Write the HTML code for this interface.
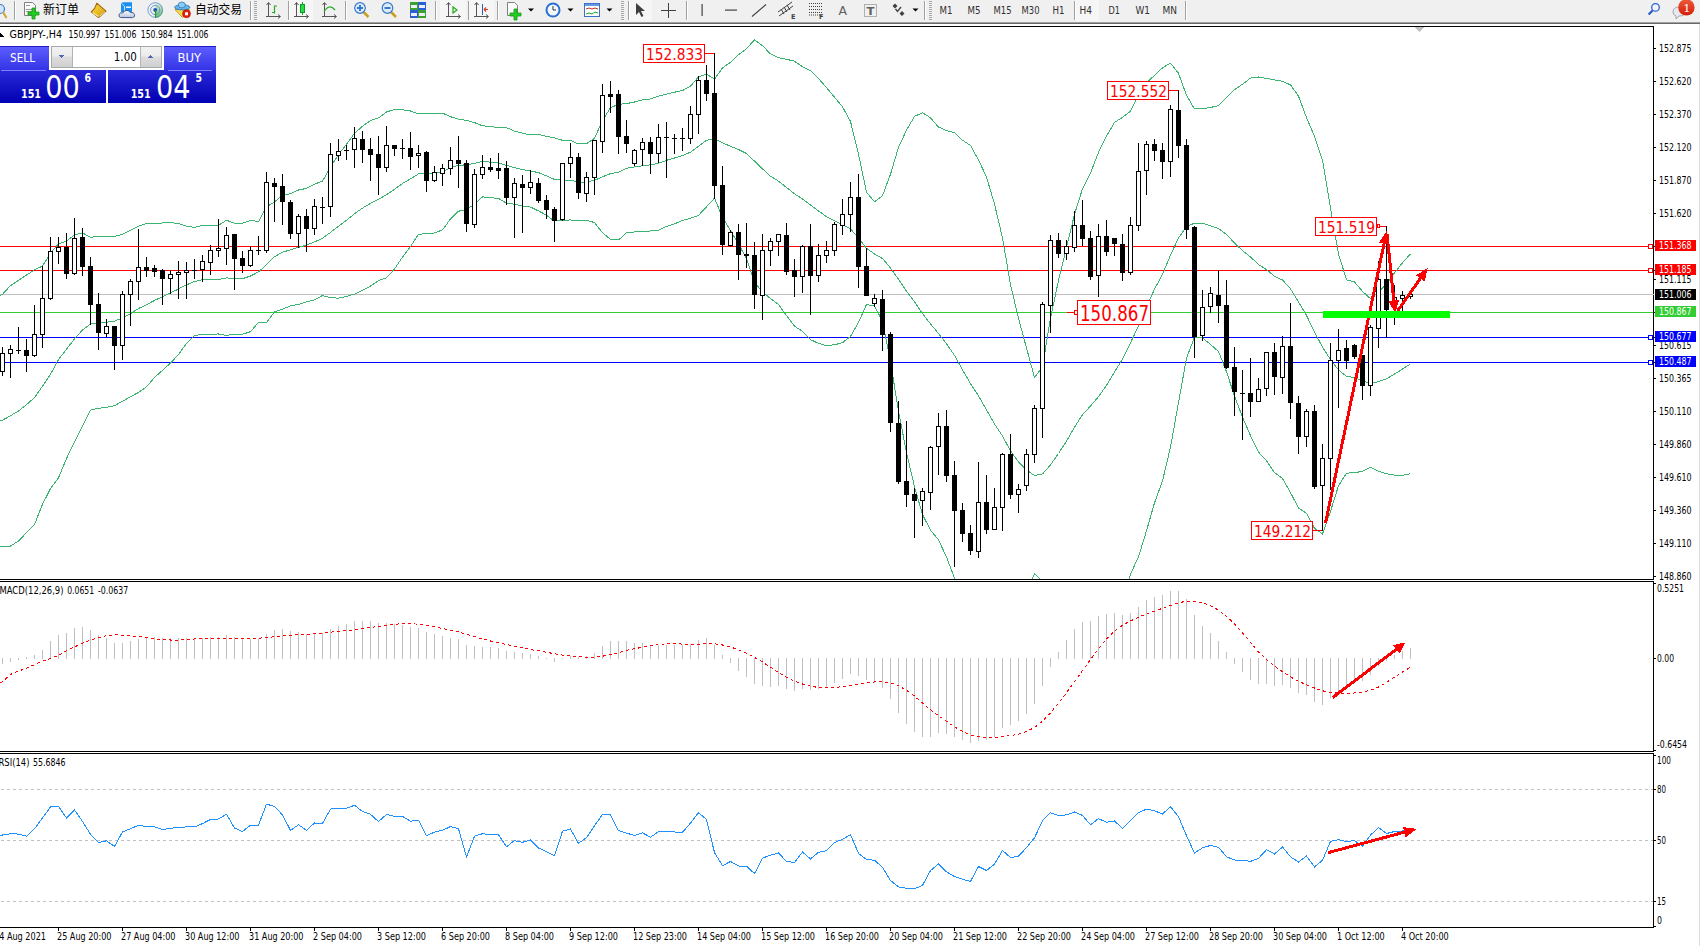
<!DOCTYPE html>
<html><head><meta charset="utf-8"><title>GBPJPY-,H4</title>
<style>html,body{margin:0;padding:0;background:#fff;width:1700px;height:946px;overflow:hidden;position:relative}
text{white-space:pre}</style></head>
<body>
<svg width="1700" height="946" viewBox="0 0 1700 946" shape-rendering="crispEdges" style="position:absolute;left:0;top:0"><rect x="0" y="24" width="1700" height="922" fill="#ffffff" />
<rect x="1699" y="24" width="1" height="922" fill="#dcdcdc" />
<rect x="0" y="246" width="1653" height="1" fill="#ff0000" />
<rect x="0" y="270" width="1653" height="1" fill="#ff0000" />
<rect x="0" y="294" width="1653" height="1" fill="#c0c0c0" />
<rect x="0" y="312" width="1653" height="1" fill="#32cd32" />
<rect x="0" y="337" width="1653" height="1" fill="#0000ff" />
<rect x="0" y="362" width="1653" height="1" fill="#0000ff" />
<rect x="1648" y="244" width="5" height="5" fill="#ff0000" />
<rect x="1649" y="245" width="3" height="3" fill="#ffffff" />
<rect x="1648" y="268" width="5" height="5" fill="#ff0000" />
<rect x="1649" y="269" width="3" height="3" fill="#ffffff" />
<rect x="1648" y="335" width="5" height="5" fill="#0000ff" />
<rect x="1649" y="336" width="3" height="3" fill="#ffffff" />
<rect x="1648" y="360" width="5" height="5" fill="#0000ff" />
<rect x="1649" y="361" width="3" height="3" fill="#ffffff" />
<defs><clipPath id="cMain"><rect x="0" y="27" width="1653" height="552"/></clipPath><clipPath id="cMacd"><rect x="0" y="582" width="1653" height="169"/></clipPath><clipPath id="cRsi"><rect x="0" y="754" width="1653" height="173"/></clipPath></defs>
<g clip-path="url(#cMain)">
<polyline points="-5.5,297.8 2.5,294.3 10.5,285.6 18.5,280.3 26.5,275.1 34.5,269.9 42.5,266.0 50.5,253.3 58.5,243.7 66.5,241.2 74.5,235.0 82.5,232.9 90.5,237.3 98.5,236.5 106.5,236.5 114.5,236.5 122.5,234.2 130.5,230.3 138.5,226.3 146.5,223.4 154.5,223.3 162.5,223.0 170.5,222.7 178.5,223.4 186.5,226.2 194.5,227.3 202.5,225.4 210.5,225.2 218.5,225.4 226.5,220.2 234.5,223.3 242.5,223.2 250.5,220.4 258.5,221.6 266.5,206.9 274.5,201.9 282.5,195.1 290.5,193.8 298.5,190.0 306.5,188.4 314.5,184.1 322.5,181.2 330.5,166.9 338.5,154.6 346.5,144.2 354.5,133.3 362.5,126.2 370.5,120.6 378.5,117.9 386.5,111.9 394.5,109.5 402.5,109.8 410.5,111.0 418.5,113.8 426.5,113.8 434.5,113.3 442.5,113.1 450.5,116.7 458.5,119.2 466.5,120.3 474.5,122.6 482.5,125.8 490.5,126.5 498.5,127.7 506.5,127.6 514.5,131.2 522.5,133.2 530.5,134.9 538.5,134.3 546.5,136.5 554.5,137.8 562.5,140.3 570.5,140.4 578.5,144.0 586.5,143.8 594.5,138.3 602.5,120.7 610.5,107.6 618.5,104.4 626.5,103.6 634.5,102.0 642.5,99.9 650.5,98.9 658.5,96.2 666.5,94.2 674.5,92.2 682.5,90.6 690.5,86.1 698.5,76.9 706.5,74.0 714.5,79.2 722.5,67.9 730.5,62.2 738.5,54.8 746.5,48.6 754.5,39.9 762.5,45.7 770.5,53.9 778.5,57.7 786.5,59.3 794.5,61.2 802.5,66.8 810.5,70.6 818.5,78.5 826.5,87.6 834.5,97.1 842.5,106.8 850.5,121.4 858.5,154.1 866.5,192.3 874.5,201.8 882.5,195.8 890.5,174.2 898.5,147.4 906.5,130.1 914.5,116.4 922.5,112.7 930.5,117.8 938.5,127.1 946.5,130.5 954.5,132.8 962.5,140.2 970.5,145.4 978.5,160.0 986.5,177.0 994.5,204.0 1002.5,237.9 1010.5,284.6 1018.5,318.3 1026.5,348.0 1034.5,377.4 1042.5,366.8 1050.5,318.1 1058.5,280.5 1066.5,247.4 1074.5,214.3 1082.5,188.8 1090.5,173.0 1098.5,152.4 1106.5,136.2 1114.5,122.4 1122.5,117.3 1130.5,111.3 1138.5,95.4 1146.5,83.0 1154.5,75.3 1162.5,67.9 1170.5,63.1 1178.5,73.3 1186.5,95.3 1194.5,108.9 1202.5,108.7 1210.5,107.5 1218.5,105.6 1226.5,97.5 1234.5,89.8 1242.5,84.2 1250.5,78.1 1258.5,77.0 1266.5,78.4 1274.5,79.9 1282.5,81.3 1290.5,84.9 1298.5,96.1 1306.5,117.6 1314.5,136.2 1322.5,160.2 1330.5,207.9 1338.5,253.9 1346.5,279.8 1354.5,281.9 1362.5,291.4 1370.5,298.7 1378.5,292.0 1386.5,283.8 1394.5,272.9 1402.5,262.8 1410.5,253.8" fill="none" stroke="#3cb371" stroke-width="1" />
<polyline points="-5.5,422.4 2.5,420.2 10.5,415.7 18.5,411.0 26.5,404.6 34.5,397.7 42.5,386.2 50.5,374.3 58.5,359.5 66.5,349.2 74.5,338.8 82.5,330.0 90.5,324.0 98.5,323.3 106.5,322.2 114.5,321.1 122.5,318.1 130.5,313.7 138.5,308.5 146.5,304.8 154.5,300.4 162.5,296.7 170.5,292.9 178.5,289.0 186.5,284.8 194.5,281.5 202.5,279.7 210.5,279.7 218.5,279.7 226.5,277.8 234.5,278.8 242.5,278.7 250.5,276.0 258.5,271.9 266.5,264.7 274.5,256.8 282.5,252.2 290.5,249.8 298.5,247.3 306.5,245.2 314.5,241.9 322.5,238.3 330.5,232.4 338.5,226.3 346.5,220.3 354.5,213.7 362.5,208.1 370.5,203.4 378.5,199.3 386.5,194.8 394.5,189.3 402.5,183.5 410.5,178.8 418.5,173.9 426.5,173.8 434.5,173.1 442.5,171.5 450.5,167.8 458.5,165.2 466.5,164.9 474.5,163.3 482.5,161.4 490.5,162.1 498.5,163.1 506.5,165.4 514.5,167.7 522.5,169.6 530.5,171.0 538.5,172.6 546.5,175.9 554.5,179.4 562.5,180.2 570.5,180.2 578.5,182.2 586.5,182.0 594.5,180.4 602.5,176.8 610.5,173.6 618.5,172.2 626.5,168.2 634.5,167.0 642.5,165.7 650.5,164.9 658.5,163.3 666.5,160.3 674.5,158.0 682.5,155.6 690.5,152.2 698.5,146.2 706.5,140.4 714.5,138.6 722.5,142.7 730.5,146.4 738.5,149.5 746.5,153.5 754.5,161.2 762.5,168.9 770.5,176.2 778.5,181.1 786.5,187.5 794.5,193.8 802.5,199.0 810.5,205.1 818.5,211.0 826.5,216.6 834.5,220.9 842.5,224.7 850.5,228.9 858.5,238.2 866.5,248.3 874.5,254.0 882.5,258.5 890.5,268.0 898.5,279.3 906.5,291.3 914.5,301.6 922.5,313.6 930.5,323.9 938.5,333.5 946.5,343.7 954.5,355.4 962.5,369.8 970.5,383.6 978.5,395.9 986.5,409.9 994.5,424.0 1002.5,436.0 1010.5,450.9 1018.5,462.0 1026.5,470.0 1034.5,475.5 1042.5,474.0 1050.5,464.9 1058.5,453.5 1066.5,441.1 1074.5,427.3 1082.5,414.7 1090.5,406.1 1098.5,396.6 1106.5,385.4 1114.5,372.0 1122.5,359.0 1130.5,342.7 1138.5,326.2 1146.5,306.9 1154.5,289.1 1162.5,274.4 1170.5,255.1 1178.5,237.9 1186.5,226.7 1194.5,223.1 1202.5,223.3 1210.5,225.9 1218.5,228.5 1226.5,234.6 1234.5,242.9 1242.5,250.7 1250.5,256.9 1258.5,264.5 1266.5,269.6 1274.5,276.3 1282.5,280.0 1290.5,288.8 1298.5,302.1 1306.5,315.4 1314.5,332.2 1322.5,347.1 1330.5,359.6 1338.5,369.9 1346.5,376.4 1354.5,377.4 1362.5,381.3 1370.5,383.0 1378.5,381.7 1386.5,378.8 1394.5,374.0 1402.5,369.1 1410.5,363.8" fill="none" stroke="#3cb371" stroke-width="1" />
<polyline points="-5.5,546.0 2.5,546.0 10.5,546.0 18.5,541.0 26.5,532.7 34.5,524.4 42.5,504.3 50.5,488.6 58.5,477.7 66.5,458.5 74.5,441.9 82.5,425.9 90.5,410.1 98.5,408.3 106.5,407.2 114.5,405.8 122.5,401.2 130.5,396.8 138.5,392.4 146.5,386.9 154.5,377.5 162.5,370.3 170.5,363.1 178.5,354.6 186.5,343.3 194.5,335.8 202.5,334.1 210.5,334.1 218.5,334.0 226.5,335.4 234.5,334.3 242.5,334.3 250.5,331.7 258.5,322.3 266.5,322.6 274.5,311.7 282.5,309.2 290.5,305.8 298.5,304.5 306.5,301.9 314.5,299.8 322.5,295.5 330.5,297.8 338.5,298.1 346.5,296.4 354.5,294.1 362.5,290.1 370.5,286.1 378.5,280.7 386.5,277.7 394.5,269.1 402.5,257.1 410.5,246.6 418.5,234.1 426.5,233.9 434.5,232.9 442.5,229.9 450.5,218.9 458.5,211.2 466.5,209.6 474.5,204.1 482.5,196.9 490.5,197.7 498.5,198.4 506.5,203.3 514.5,204.2 522.5,206.0 530.5,207.1 538.5,210.9 546.5,215.2 554.5,221.1 562.5,220.1 570.5,220.0 578.5,220.3 586.5,220.2 594.5,222.6 602.5,232.8 610.5,239.5 618.5,240.0 626.5,232.8 634.5,232.0 642.5,231.6 650.5,231.0 658.5,230.4 666.5,226.4 674.5,223.9 682.5,220.5 690.5,218.3 698.5,215.4 706.5,206.8 714.5,198.1 722.5,217.4 730.5,230.7 738.5,244.2 746.5,258.3 754.5,282.4 762.5,292.1 770.5,298.5 778.5,304.5 786.5,315.6 794.5,326.3 802.5,331.2 810.5,339.6 818.5,343.4 826.5,345.6 834.5,344.8 842.5,342.7 850.5,336.4 858.5,322.4 866.5,304.4 874.5,306.2 882.5,321.1 890.5,361.8 898.5,411.2 906.5,452.5 914.5,486.8 922.5,514.6 930.5,530.1 938.5,539.9 946.5,557.0 954.5,578.1 962.5,599.4 970.5,621.7 978.5,631.8 986.5,642.7 994.5,644.1 1002.5,634.1 1010.5,617.2 1018.5,605.8 1026.5,591.9 1034.5,573.5 1042.5,581.2 1050.5,611.6 1058.5,626.4 1066.5,634.7 1074.5,640.2 1082.5,640.5 1090.5,639.2 1098.5,640.9 1106.5,634.6 1114.5,621.7 1122.5,600.7 1130.5,574.1 1138.5,556.9 1146.5,530.8 1154.5,502.9 1162.5,480.9 1170.5,447.2 1178.5,402.6 1186.5,358.1 1194.5,337.3 1202.5,337.9 1210.5,344.4 1218.5,351.5 1226.5,371.7 1234.5,396.1 1242.5,417.1 1250.5,435.7 1258.5,452.1 1266.5,460.8 1274.5,472.6 1282.5,478.6 1290.5,492.7 1298.5,508.1 1306.5,513.3 1314.5,528.3 1322.5,533.9 1330.5,511.4 1338.5,485.8 1346.5,473.1 1354.5,472.8 1362.5,471.2 1370.5,467.3 1378.5,471.4 1386.5,473.7 1394.5,475.1 1402.5,475.4 1410.5,473.8" fill="none" stroke="#3cb371" stroke-width="1" />
</g>
<rect x="2" y="347" width="1" height="29" fill="#000" />
<rect x="0" y="353" width="5" height="19" fill="#000" />
<rect x="1" y="354" width="3" height="17" fill="#fff" />
<rect x="10" y="345" width="1" height="33" fill="#000" />
<rect x="8" y="349" width="5" height="5" fill="#000" />
<rect x="9" y="350" width="3" height="3" fill="#fff" />
<rect x="18" y="327" width="1" height="27" fill="#000" />
<rect x="16" y="350" width="5" height="1" fill="#000" />
<rect x="26" y="339" width="1" height="33" fill="#000" />
<rect x="24" y="350" width="5" height="6" fill="#000" />
<rect x="34" y="305" width="1" height="52" fill="#000" />
<rect x="32" y="334" width="5" height="22" fill="#000" />
<rect x="33" y="335" width="3" height="20" fill="#fff" />
<rect x="42" y="266" width="1" height="82" fill="#000" />
<rect x="40" y="298" width="5" height="37" fill="#000" />
<rect x="41" y="299" width="3" height="35" fill="#fff" />
<rect x="50" y="237" width="1" height="63" fill="#000" />
<rect x="48" y="251" width="5" height="48" fill="#000" />
<rect x="49" y="252" width="3" height="46" fill="#fff" />
<rect x="58" y="237" width="1" height="27" fill="#000" />
<rect x="56" y="247" width="5" height="5" fill="#000" />
<rect x="57" y="248" width="3" height="3" fill="#fff" />
<rect x="66" y="233" width="1" height="46" fill="#000" />
<rect x="64" y="247" width="5" height="27" fill="#000" />
<rect x="74" y="218" width="1" height="57" fill="#000" />
<rect x="72" y="238" width="5" height="36" fill="#000" />
<rect x="73" y="239" width="3" height="34" fill="#fff" />
<rect x="82" y="228" width="1" height="48" fill="#000" />
<rect x="80" y="237" width="5" height="30" fill="#000" />
<rect x="90" y="257" width="1" height="68" fill="#000" />
<rect x="88" y="266" width="5" height="39" fill="#000" />
<rect x="98" y="293" width="1" height="57" fill="#000" />
<rect x="96" y="304" width="5" height="29" fill="#000" />
<rect x="106" y="319" width="1" height="18" fill="#000" />
<rect x="104" y="326" width="5" height="8" fill="#000" />
<rect x="105" y="327" width="3" height="6" fill="#fff" />
<rect x="114" y="326" width="1" height="44" fill="#000" />
<rect x="112" y="326" width="5" height="20" fill="#000" />
<rect x="122" y="291" width="1" height="69" fill="#000" />
<rect x="120" y="294" width="5" height="52" fill="#000" />
<rect x="121" y="295" width="3" height="50" fill="#fff" />
<rect x="130" y="279" width="1" height="47" fill="#000" />
<rect x="128" y="281" width="5" height="14" fill="#000" />
<rect x="129" y="282" width="3" height="12" fill="#fff" />
<rect x="138" y="229" width="1" height="71" fill="#000" />
<rect x="136" y="267" width="5" height="15" fill="#000" />
<rect x="137" y="268" width="3" height="13" fill="#fff" />
<rect x="146" y="257" width="1" height="20" fill="#000" />
<rect x="144" y="267" width="5" height="4" fill="#000" />
<rect x="154" y="265" width="1" height="12" fill="#000" />
<rect x="152" y="268" width="5" height="4" fill="#000" />
<rect x="162" y="269" width="1" height="36" fill="#000" />
<rect x="160" y="270" width="5" height="9" fill="#000" />
<rect x="170" y="270" width="1" height="24" fill="#000" />
<rect x="168" y="274" width="5" height="5" fill="#000" />
<rect x="169" y="275" width="3" height="3" fill="#fff" />
<rect x="178" y="261" width="1" height="38" fill="#000" />
<rect x="176" y="272" width="5" height="3" fill="#000" />
<rect x="177" y="273" width="3" height="1" fill="#fff" />
<rect x="186" y="262" width="1" height="37" fill="#000" />
<rect x="184" y="270" width="5" height="3" fill="#000" />
<rect x="185" y="271" width="3" height="1" fill="#fff" />
<rect x="194" y="259" width="1" height="20" fill="#000" />
<rect x="192" y="270" width="5" height="1" fill="#000" />
<rect x="202" y="255" width="1" height="27" fill="#000" />
<rect x="200" y="261" width="5" height="9" fill="#000" />
<rect x="201" y="262" width="3" height="7" fill="#fff" />
<rect x="210" y="245" width="1" height="30" fill="#000" />
<rect x="208" y="250" width="5" height="13" fill="#000" />
<rect x="209" y="251" width="3" height="11" fill="#fff" />
<rect x="218" y="219" width="1" height="38" fill="#000" />
<rect x="216" y="248" width="5" height="3" fill="#000" />
<rect x="217" y="249" width="3" height="1" fill="#fff" />
<rect x="226" y="227" width="1" height="38" fill="#000" />
<rect x="224" y="235" width="5" height="14" fill="#000" />
<rect x="225" y="236" width="3" height="12" fill="#fff" />
<rect x="234" y="234" width="1" height="56" fill="#000" />
<rect x="232" y="234" width="5" height="25" fill="#000" />
<rect x="242" y="251" width="1" height="22" fill="#000" />
<rect x="240" y="258" width="5" height="8" fill="#000" />
<rect x="250" y="246" width="1" height="21" fill="#000" />
<rect x="248" y="250" width="5" height="16" fill="#000" />
<rect x="249" y="251" width="3" height="14" fill="#fff" />
<rect x="258" y="236" width="1" height="19" fill="#000" />
<rect x="256" y="250" width="5" height="1" fill="#000" />
<rect x="266" y="172" width="1" height="81" fill="#000" />
<rect x="264" y="182" width="5" height="69" fill="#000" />
<rect x="265" y="183" width="3" height="67" fill="#fff" />
<rect x="274" y="178" width="1" height="44" fill="#000" />
<rect x="272" y="183" width="5" height="4" fill="#000" />
<rect x="282" y="174" width="1" height="51" fill="#000" />
<rect x="280" y="186" width="5" height="16" fill="#000" />
<rect x="290" y="200" width="1" height="39" fill="#000" />
<rect x="288" y="202" width="5" height="32" fill="#000" />
<rect x="298" y="214" width="1" height="34" fill="#000" />
<rect x="296" y="216" width="5" height="18" fill="#000" />
<rect x="297" y="217" width="3" height="16" fill="#fff" />
<rect x="306" y="209" width="1" height="43" fill="#000" />
<rect x="304" y="216" width="5" height="13" fill="#000" />
<rect x="314" y="199" width="1" height="36" fill="#000" />
<rect x="312" y="206" width="5" height="23" fill="#000" />
<rect x="313" y="207" width="3" height="21" fill="#fff" />
<rect x="322" y="197" width="1" height="27" fill="#000" />
<rect x="320" y="207" width="5" height="1" fill="#000" />
<rect x="330" y="143" width="1" height="74" fill="#000" />
<rect x="328" y="154" width="5" height="53" fill="#000" />
<rect x="329" y="155" width="3" height="51" fill="#fff" />
<rect x="338" y="139" width="1" height="22" fill="#000" />
<rect x="336" y="151" width="5" height="5" fill="#000" />
<rect x="337" y="152" width="3" height="3" fill="#fff" />
<rect x="346" y="145" width="1" height="15" fill="#000" />
<rect x="344" y="150" width="5" height="1" fill="#000" />
<rect x="354" y="127" width="1" height="41" fill="#000" />
<rect x="352" y="138" width="5" height="12" fill="#000" />
<rect x="353" y="139" width="3" height="10" fill="#fff" />
<rect x="362" y="131" width="1" height="32" fill="#000" />
<rect x="360" y="139" width="5" height="11" fill="#000" />
<rect x="370" y="138" width="1" height="43" fill="#000" />
<rect x="368" y="149" width="5" height="6" fill="#000" />
<rect x="378" y="136" width="1" height="59" fill="#000" />
<rect x="376" y="154" width="5" height="14" fill="#000" />
<rect x="386" y="126" width="1" height="46" fill="#000" />
<rect x="384" y="145" width="5" height="23" fill="#000" />
<rect x="385" y="146" width="3" height="21" fill="#fff" />
<rect x="394" y="145" width="1" height="11" fill="#000" />
<rect x="392" y="145" width="5" height="4" fill="#000" />
<rect x="402" y="139" width="1" height="20" fill="#000" />
<rect x="400" y="148" width="5" height="1" fill="#000" />
<rect x="410" y="132" width="1" height="38" fill="#000" />
<rect x="408" y="148" width="5" height="9" fill="#000" />
<rect x="418" y="145" width="1" height="23" fill="#000" />
<rect x="416" y="153" width="5" height="3" fill="#000" />
<rect x="417" y="154" width="3" height="1" fill="#fff" />
<rect x="426" y="151" width="1" height="41" fill="#000" />
<rect x="424" y="152" width="5" height="29" fill="#000" />
<rect x="434" y="166" width="1" height="16" fill="#000" />
<rect x="432" y="172" width="5" height="9" fill="#000" />
<rect x="433" y="173" width="3" height="7" fill="#fff" />
<rect x="442" y="164" width="1" height="22" fill="#000" />
<rect x="440" y="168" width="5" height="6" fill="#000" />
<rect x="441" y="169" width="3" height="4" fill="#fff" />
<rect x="450" y="147" width="1" height="28" fill="#000" />
<rect x="448" y="160" width="5" height="9" fill="#000" />
<rect x="449" y="161" width="3" height="7" fill="#fff" />
<rect x="458" y="136" width="1" height="52" fill="#000" />
<rect x="456" y="160" width="5" height="4" fill="#000" />
<rect x="466" y="160" width="1" height="72" fill="#000" />
<rect x="464" y="163" width="5" height="61" fill="#000" />
<rect x="474" y="169" width="1" height="59" fill="#000" />
<rect x="472" y="174" width="5" height="51" fill="#000" />
<rect x="473" y="175" width="3" height="49" fill="#fff" />
<rect x="482" y="155" width="1" height="24" fill="#000" />
<rect x="480" y="167" width="5" height="8" fill="#000" />
<rect x="481" y="168" width="3" height="6" fill="#fff" />
<rect x="490" y="158" width="1" height="14" fill="#000" />
<rect x="488" y="167" width="5" height="3" fill="#000" />
<rect x="498" y="153" width="1" height="26" fill="#000" />
<rect x="496" y="168" width="5" height="3" fill="#000" />
<rect x="506" y="161" width="1" height="44" fill="#000" />
<rect x="504" y="168" width="5" height="30" fill="#000" />
<rect x="514" y="178" width="1" height="60" fill="#000" />
<rect x="512" y="183" width="5" height="15" fill="#000" />
<rect x="513" y="184" width="3" height="13" fill="#fff" />
<rect x="522" y="175" width="1" height="58" fill="#000" />
<rect x="520" y="184" width="5" height="4" fill="#000" />
<rect x="530" y="170" width="1" height="24" fill="#000" />
<rect x="528" y="182" width="5" height="6" fill="#000" />
<rect x="529" y="183" width="3" height="4" fill="#fff" />
<rect x="538" y="178" width="1" height="25" fill="#000" />
<rect x="536" y="183" width="5" height="18" fill="#000" />
<rect x="546" y="195" width="1" height="24" fill="#000" />
<rect x="544" y="200" width="5" height="10" fill="#000" />
<rect x="554" y="207" width="1" height="35" fill="#000" />
<rect x="552" y="209" width="5" height="12" fill="#000" />
<rect x="562" y="163" width="1" height="58" fill="#000" />
<rect x="560" y="163" width="5" height="57" fill="#000" />
<rect x="561" y="164" width="3" height="55" fill="#fff" />
<rect x="570" y="143" width="1" height="35" fill="#000" />
<rect x="568" y="157" width="5" height="7" fill="#000" />
<rect x="569" y="158" width="3" height="5" fill="#fff" />
<rect x="578" y="153" width="1" height="46" fill="#000" />
<rect x="576" y="157" width="5" height="36" fill="#000" />
<rect x="586" y="172" width="1" height="30" fill="#000" />
<rect x="584" y="177" width="5" height="17" fill="#000" />
<rect x="585" y="178" width="3" height="15" fill="#fff" />
<rect x="594" y="140" width="1" height="55" fill="#000" />
<rect x="592" y="140" width="5" height="38" fill="#000" />
<rect x="593" y="141" width="3" height="36" fill="#fff" />
<rect x="602" y="84" width="1" height="69" fill="#000" />
<rect x="600" y="95" width="5" height="47" fill="#000" />
<rect x="601" y="96" width="3" height="45" fill="#fff" />
<rect x="610" y="81" width="1" height="32" fill="#000" />
<rect x="608" y="94" width="5" height="3" fill="#000" />
<rect x="618" y="90" width="1" height="64" fill="#000" />
<rect x="616" y="94" width="5" height="43" fill="#000" />
<rect x="626" y="120" width="1" height="33" fill="#000" />
<rect x="624" y="136" width="5" height="8" fill="#000" />
<rect x="634" y="149" width="1" height="17" fill="#000" />
<rect x="632" y="150" width="5" height="14" fill="#000" />
<rect x="633" y="151" width="3" height="12" fill="#fff" />
<rect x="642" y="138" width="1" height="28" fill="#000" />
<rect x="640" y="142" width="5" height="8" fill="#000" />
<rect x="641" y="143" width="3" height="6" fill="#fff" />
<rect x="650" y="137" width="1" height="37" fill="#000" />
<rect x="648" y="142" width="5" height="12" fill="#000" />
<rect x="658" y="124" width="1" height="39" fill="#000" />
<rect x="656" y="137" width="5" height="17" fill="#000" />
<rect x="657" y="138" width="3" height="15" fill="#fff" />
<rect x="666" y="122" width="1" height="56" fill="#000" />
<rect x="664" y="137" width="5" height="1" fill="#000" />
<rect x="674" y="134" width="1" height="20" fill="#000" />
<rect x="672" y="138" width="5" height="1" fill="#000" />
<rect x="682" y="128" width="1" height="23" fill="#000" />
<rect x="680" y="138" width="5" height="1" fill="#000" />
<rect x="690" y="106" width="1" height="38" fill="#000" />
<rect x="688" y="114" width="5" height="25" fill="#000" />
<rect x="689" y="115" width="3" height="23" fill="#fff" />
<rect x="698" y="76" width="1" height="58" fill="#000" />
<rect x="696" y="80" width="5" height="35" fill="#000" />
<rect x="697" y="81" width="3" height="33" fill="#fff" />
<rect x="706" y="65" width="1" height="36" fill="#000" />
<rect x="704" y="80" width="5" height="14" fill="#000" />
<rect x="714" y="53" width="1" height="146" fill="#000" />
<rect x="712" y="93" width="5" height="93" fill="#000" />
<rect x="722" y="166" width="1" height="89" fill="#000" />
<rect x="720" y="185" width="5" height="60" fill="#000" />
<rect x="730" y="230" width="1" height="17" fill="#000" />
<rect x="728" y="232" width="5" height="14" fill="#000" />
<rect x="729" y="233" width="3" height="12" fill="#fff" />
<rect x="738" y="224" width="1" height="56" fill="#000" />
<rect x="736" y="232" width="5" height="23" fill="#000" />
<rect x="746" y="223" width="1" height="45" fill="#000" />
<rect x="744" y="254" width="5" height="2" fill="#000" />
<rect x="754" y="242" width="1" height="67" fill="#000" />
<rect x="752" y="255" width="5" height="40" fill="#000" />
<rect x="762" y="234" width="1" height="86" fill="#000" />
<rect x="760" y="250" width="5" height="46" fill="#000" />
<rect x="761" y="251" width="3" height="44" fill="#fff" />
<rect x="770" y="238" width="1" height="28" fill="#000" />
<rect x="768" y="241" width="5" height="10" fill="#000" />
<rect x="769" y="242" width="3" height="8" fill="#fff" />
<rect x="778" y="234" width="1" height="22" fill="#000" />
<rect x="776" y="234" width="5" height="8" fill="#000" />
<rect x="777" y="235" width="3" height="6" fill="#fff" />
<rect x="786" y="223" width="1" height="52" fill="#000" />
<rect x="784" y="235" width="5" height="37" fill="#000" />
<rect x="794" y="259" width="1" height="38" fill="#000" />
<rect x="792" y="270" width="5" height="7" fill="#000" />
<rect x="802" y="245" width="1" height="48" fill="#000" />
<rect x="800" y="246" width="5" height="31" fill="#000" />
<rect x="801" y="247" width="3" height="29" fill="#fff" />
<rect x="810" y="224" width="1" height="91" fill="#000" />
<rect x="808" y="246" width="5" height="30" fill="#000" />
<rect x="818" y="244" width="1" height="38" fill="#000" />
<rect x="816" y="255" width="5" height="21" fill="#000" />
<rect x="817" y="256" width="3" height="19" fill="#fff" />
<rect x="826" y="241" width="1" height="22" fill="#000" />
<rect x="824" y="250" width="5" height="6" fill="#000" />
<rect x="825" y="251" width="3" height="4" fill="#fff" />
<rect x="834" y="222" width="1" height="34" fill="#000" />
<rect x="832" y="224" width="5" height="27" fill="#000" />
<rect x="833" y="225" width="3" height="25" fill="#fff" />
<rect x="842" y="199" width="1" height="36" fill="#000" />
<rect x="840" y="214" width="5" height="12" fill="#000" />
<rect x="841" y="215" width="3" height="10" fill="#fff" />
<rect x="850" y="182" width="1" height="50" fill="#000" />
<rect x="848" y="197" width="5" height="18" fill="#000" />
<rect x="849" y="198" width="3" height="16" fill="#fff" />
<rect x="858" y="174" width="1" height="114" fill="#000" />
<rect x="856" y="197" width="5" height="70" fill="#000" />
<rect x="866" y="248" width="1" height="48" fill="#000" />
<rect x="864" y="266" width="5" height="30" fill="#000" />
<rect x="874" y="294" width="1" height="13" fill="#000" />
<rect x="872" y="298" width="5" height="6" fill="#000" />
<rect x="873" y="299" width="3" height="4" fill="#fff" />
<rect x="882" y="290" width="1" height="61" fill="#000" />
<rect x="880" y="299" width="5" height="36" fill="#000" />
<rect x="890" y="332" width="1" height="100" fill="#000" />
<rect x="888" y="334" width="5" height="89" fill="#000" />
<rect x="898" y="401" width="1" height="83" fill="#000" />
<rect x="896" y="423" width="5" height="59" fill="#000" />
<rect x="906" y="421" width="1" height="86" fill="#000" />
<rect x="904" y="481" width="5" height="14" fill="#000" />
<rect x="914" y="488" width="1" height="50" fill="#000" />
<rect x="912" y="494" width="5" height="7" fill="#000" />
<rect x="922" y="488" width="1" height="38" fill="#000" />
<rect x="920" y="491" width="5" height="10" fill="#000" />
<rect x="921" y="492" width="3" height="8" fill="#fff" />
<rect x="930" y="446" width="1" height="64" fill="#000" />
<rect x="928" y="447" width="5" height="46" fill="#000" />
<rect x="929" y="448" width="3" height="44" fill="#fff" />
<rect x="938" y="413" width="1" height="62" fill="#000" />
<rect x="936" y="426" width="5" height="21" fill="#000" />
<rect x="937" y="427" width="3" height="19" fill="#fff" />
<rect x="946" y="410" width="1" height="72" fill="#000" />
<rect x="944" y="426" width="5" height="50" fill="#000" />
<rect x="954" y="461" width="1" height="106" fill="#000" />
<rect x="952" y="475" width="5" height="36" fill="#000" />
<rect x="962" y="503" width="1" height="39" fill="#000" />
<rect x="960" y="510" width="5" height="24" fill="#000" />
<rect x="970" y="525" width="1" height="30" fill="#000" />
<rect x="968" y="533" width="5" height="18" fill="#000" />
<rect x="978" y="462" width="1" height="96" fill="#000" />
<rect x="976" y="502" width="5" height="50" fill="#000" />
<rect x="977" y="503" width="3" height="48" fill="#fff" />
<rect x="986" y="475" width="1" height="59" fill="#000" />
<rect x="984" y="502" width="5" height="28" fill="#000" />
<rect x="994" y="488" width="1" height="42" fill="#000" />
<rect x="992" y="507" width="5" height="23" fill="#000" />
<rect x="993" y="508" width="3" height="21" fill="#fff" />
<rect x="1002" y="453" width="1" height="78" fill="#000" />
<rect x="1000" y="454" width="5" height="54" fill="#000" />
<rect x="1001" y="455" width="3" height="52" fill="#fff" />
<rect x="1010" y="434" width="1" height="65" fill="#000" />
<rect x="1008" y="454" width="5" height="41" fill="#000" />
<rect x="1018" y="484" width="1" height="29" fill="#000" />
<rect x="1016" y="489" width="5" height="6" fill="#000" />
<rect x="1017" y="490" width="3" height="4" fill="#fff" />
<rect x="1026" y="449" width="1" height="42" fill="#000" />
<rect x="1024" y="454" width="5" height="32" fill="#000" />
<rect x="1025" y="455" width="3" height="30" fill="#fff" />
<rect x="1034" y="405" width="1" height="58" fill="#000" />
<rect x="1032" y="408" width="5" height="47" fill="#000" />
<rect x="1033" y="409" width="3" height="45" fill="#fff" />
<rect x="1042" y="302" width="1" height="136" fill="#000" />
<rect x="1040" y="304" width="5" height="105" fill="#000" />
<rect x="1041" y="305" width="3" height="103" fill="#fff" />
<rect x="1050" y="235" width="1" height="98" fill="#000" />
<rect x="1048" y="240" width="5" height="66" fill="#000" />
<rect x="1049" y="241" width="3" height="64" fill="#fff" />
<rect x="1058" y="233" width="1" height="25" fill="#000" />
<rect x="1056" y="240" width="5" height="14" fill="#000" />
<rect x="1066" y="240" width="1" height="20" fill="#000" />
<rect x="1064" y="246" width="5" height="8" fill="#000" />
<rect x="1065" y="247" width="3" height="6" fill="#fff" />
<rect x="1074" y="211" width="1" height="41" fill="#000" />
<rect x="1072" y="225" width="5" height="23" fill="#000" />
<rect x="1073" y="226" width="3" height="21" fill="#fff" />
<rect x="1082" y="200" width="1" height="46" fill="#000" />
<rect x="1080" y="225" width="5" height="14" fill="#000" />
<rect x="1090" y="231" width="1" height="49" fill="#000" />
<rect x="1088" y="238" width="5" height="39" fill="#000" />
<rect x="1098" y="224" width="1" height="73" fill="#000" />
<rect x="1096" y="236" width="5" height="40" fill="#000" />
<rect x="1097" y="237" width="3" height="38" fill="#fff" />
<rect x="1106" y="220" width="1" height="36" fill="#000" />
<rect x="1104" y="236" width="5" height="16" fill="#000" />
<rect x="1114" y="238" width="1" height="18" fill="#000" />
<rect x="1112" y="238" width="5" height="6" fill="#000" />
<rect x="1122" y="234" width="1" height="47" fill="#000" />
<rect x="1120" y="244" width="5" height="29" fill="#000" />
<rect x="1130" y="217" width="1" height="58" fill="#000" />
<rect x="1128" y="225" width="5" height="48" fill="#000" />
<rect x="1129" y="226" width="3" height="46" fill="#fff" />
<rect x="1138" y="143" width="1" height="88" fill="#000" />
<rect x="1136" y="171" width="5" height="55" fill="#000" />
<rect x="1137" y="172" width="3" height="53" fill="#fff" />
<rect x="1146" y="141" width="1" height="54" fill="#000" />
<rect x="1144" y="144" width="5" height="27" fill="#000" />
<rect x="1145" y="145" width="3" height="25" fill="#fff" />
<rect x="1154" y="139" width="1" height="22" fill="#000" />
<rect x="1152" y="144" width="5" height="7" fill="#000" />
<rect x="1162" y="143" width="1" height="36" fill="#000" />
<rect x="1160" y="150" width="5" height="12" fill="#000" />
<rect x="1170" y="105" width="1" height="72" fill="#000" />
<rect x="1168" y="109" width="5" height="53" fill="#000" />
<rect x="1169" y="110" width="3" height="51" fill="#fff" />
<rect x="1178" y="90" width="1" height="68" fill="#000" />
<rect x="1176" y="110" width="5" height="36" fill="#000" />
<rect x="1186" y="139" width="1" height="100" fill="#000" />
<rect x="1184" y="145" width="5" height="85" fill="#000" />
<rect x="1194" y="226" width="1" height="132" fill="#000" />
<rect x="1192" y="227" width="5" height="110" fill="#000" />
<rect x="1202" y="290" width="1" height="51" fill="#000" />
<rect x="1200" y="307" width="5" height="29" fill="#000" />
<rect x="1201" y="308" width="3" height="27" fill="#fff" />
<rect x="1210" y="287" width="1" height="26" fill="#000" />
<rect x="1208" y="293" width="5" height="14" fill="#000" />
<rect x="1209" y="294" width="3" height="12" fill="#fff" />
<rect x="1218" y="270" width="1" height="53" fill="#000" />
<rect x="1216" y="295" width="5" height="11" fill="#000" />
<rect x="1226" y="280" width="1" height="89" fill="#000" />
<rect x="1224" y="305" width="5" height="63" fill="#000" />
<rect x="1234" y="347" width="1" height="69" fill="#000" />
<rect x="1232" y="367" width="5" height="25" fill="#000" />
<rect x="1242" y="370" width="1" height="70" fill="#000" />
<rect x="1240" y="393" width="5" height="1" fill="#000" />
<rect x="1250" y="358" width="1" height="59" fill="#000" />
<rect x="1248" y="393" width="5" height="9" fill="#000" />
<rect x="1258" y="378" width="1" height="24" fill="#000" />
<rect x="1256" y="389" width="5" height="13" fill="#000" />
<rect x="1257" y="390" width="3" height="11" fill="#fff" />
<rect x="1266" y="352" width="1" height="44" fill="#000" />
<rect x="1264" y="352" width="5" height="37" fill="#000" />
<rect x="1265" y="353" width="3" height="35" fill="#fff" />
<rect x="1274" y="343" width="1" height="52" fill="#000" />
<rect x="1272" y="352" width="5" height="25" fill="#000" />
<rect x="1282" y="336" width="1" height="58" fill="#000" />
<rect x="1280" y="346" width="5" height="32" fill="#000" />
<rect x="1281" y="347" width="3" height="30" fill="#fff" />
<rect x="1290" y="303" width="1" height="116" fill="#000" />
<rect x="1288" y="346" width="5" height="57" fill="#000" />
<rect x="1298" y="396" width="1" height="58" fill="#000" />
<rect x="1296" y="403" width="5" height="34" fill="#000" />
<rect x="1306" y="409" width="1" height="38" fill="#000" />
<rect x="1304" y="411" width="5" height="26" fill="#000" />
<rect x="1305" y="412" width="3" height="24" fill="#fff" />
<rect x="1314" y="405" width="1" height="84" fill="#000" />
<rect x="1312" y="411" width="5" height="76" fill="#000" />
<rect x="1322" y="444" width="1" height="87" fill="#000" />
<rect x="1320" y="458" width="5" height="28" fill="#000" />
<rect x="1321" y="459" width="3" height="26" fill="#fff" />
<rect x="1330" y="343" width="1" height="147" fill="#000" />
<rect x="1328" y="360" width="5" height="99" fill="#000" />
<rect x="1329" y="361" width="3" height="97" fill="#fff" />
<rect x="1338" y="329" width="1" height="79" fill="#000" />
<rect x="1336" y="350" width="5" height="11" fill="#000" />
<rect x="1337" y="351" width="3" height="9" fill="#fff" />
<rect x="1346" y="340" width="1" height="29" fill="#000" />
<rect x="1344" y="348" width="5" height="13" fill="#000" />
<rect x="1354" y="344" width="1" height="15" fill="#000" />
<rect x="1352" y="345" width="5" height="12" fill="#000" />
<rect x="1362" y="355" width="1" height="45" fill="#000" />
<rect x="1360" y="355" width="5" height="31" fill="#000" />
<rect x="1370" y="325" width="1" height="71" fill="#000" />
<rect x="1368" y="327" width="5" height="59" fill="#000" />
<rect x="1369" y="328" width="3" height="57" fill="#fff" />
<rect x="1378" y="261" width="1" height="87" fill="#000" />
<rect x="1376" y="279" width="5" height="50" fill="#000" />
<rect x="1377" y="280" width="3" height="48" fill="#fff" />
<rect x="1386" y="226" width="1" height="112" fill="#000" />
<rect x="1384" y="279" width="5" height="31" fill="#000" />
<rect x="1394" y="285" width="1" height="40" fill="#000" />
<rect x="1392" y="297" width="5" height="8" fill="#000" />
<rect x="1393" y="298" width="3" height="6" fill="#fff" />
<rect x="1402" y="291" width="1" height="20" fill="#000" />
<rect x="1400" y="295" width="5" height="4" fill="#000" />
<rect x="1401" y="296" width="3" height="2" fill="#fff" />
<rect x="1410" y="294" width="1" height="5" fill="#000" />
<rect x="1408" y="294" width="5" height="3" fill="#000" />
<rect x="1409" y="295" width="3" height="1" fill="#fff" />
<rect x="643" y="44" width="62" height="19" fill="#ff0000" />
<rect x="644" y="45" width="60" height="17" fill="#fff" />
<text x="646" y="60" font-size="16.5" fill="#ff0000" font-family="DejaVu Sans, sans-serif" textLength="57" lengthAdjust="spacingAndGlyphs" >152.833</text>
<rect x="705" y="53" width="9" height="1" fill="#ff0000" />
<rect x="1107" y="81" width="62" height="19" fill="#ff0000" />
<rect x="1108" y="82" width="60" height="17" fill="#fff" />
<text x="1110" y="97" font-size="16.5" fill="#ff0000" font-family="DejaVu Sans, sans-serif" textLength="57" lengthAdjust="spacingAndGlyphs" >152.552</text>
<rect x="1169" y="90" width="9" height="1" fill="#ff0000" />
<rect x="1251" y="521" width="62" height="19" fill="#ff0000" />
<rect x="1252" y="522" width="60" height="17" fill="#fff" />
<text x="1254" y="537" font-size="16.5" fill="#ff0000" font-family="DejaVu Sans, sans-serif" textLength="57" lengthAdjust="spacingAndGlyphs" >149.212</text>
<rect x="1313" y="530" width="9" height="1" fill="#ff0000" />
<rect x="1315" y="217" width="62" height="19" fill="#ff0000" />
<rect x="1316" y="218" width="60" height="17" fill="#fff" />
<text x="1318" y="233" font-size="16.5" fill="#ff0000" font-family="DejaVu Sans, sans-serif" textLength="57" lengthAdjust="spacingAndGlyphs" >151.519</text>
<rect x="1380" y="226" width="6" height="1" fill="#ff0000" />
<rect x="1377" y="224" width="3" height="4" fill="#ff0000" />
<rect x="1378" y="225" width="1" height="2" fill="#fff" />
<rect x="1077" y="300" width="74" height="25" fill="#ff0000" />
<rect x="1078" y="301" width="72" height="23" fill="#fff" />
<text x="1080" y="321" font-size="22" fill="#ff0000" font-family="DejaVu Sans, sans-serif" textLength="69" lengthAdjust="spacingAndGlyphs" >150.867</text>
<rect x="1067" y="312" width="7" height="1" fill="#ff0000" />
<rect x="1074" y="310" width="4" height="5" fill="#ff0000" />
<rect x="1075" y="311" width="2" height="3" fill="#fff" />
<line x1="1325.5" y1="523.0" x2="1384.6" y2="241.2" stroke="#ff0000" stroke-width="3"/>
<polygon points="1386.4,232.4 1388.5,244.1 1379.7,242.2" fill="#ff0000" stroke="#ff0000" stroke-width="1"/>
<line x1="1387.0" y1="234.0" x2="1394.1" y2="303.0" stroke="#ff0000" stroke-width="3"/>
<polygon points="1395.0,312.0 1389.4,301.5 1398.4,300.6" fill="#ff0000" stroke="#ff0000" stroke-width="1"/>
<line x1="1397.5" y1="311.0" x2="1421.8" y2="276.4" stroke="#ff0000" stroke-width="3"/>
<polygon points="1427.0,269.0 1424.4,280.6 1417.0,275.4" fill="#ff0000" stroke="#ff0000" stroke-width="1"/>
<rect x="1323" y="311" width="127" height="7" fill="#00ff00" />
<rect x="0" y="26" width="1654" height="1" fill="#000" />
<rect x="0" y="579" width="1654" height="1" fill="#000" />
<rect x="1653" y="26" width="1" height="554" fill="#000" />
<rect x="0" y="581" width="1654" height="1" fill="#000" />
<rect x="0" y="751" width="1654" height="1" fill="#000" />
<rect x="1653" y="581" width="1" height="171" fill="#000" />
<rect x="0" y="753" width="1654" height="1" fill="#000" />
<rect x="0" y="927" width="1654" height="1" fill="#000" />
<rect x="1653" y="753" width="1" height="175" fill="#000" />
<rect x="0" y="0" width="1700" height="22" fill="#f0f0f0" />
<rect x="0" y="22" width="1700" height="1" fill="#a0a0a0" />
<rect x="0" y="23" width="1700" height="1" fill="#696969" />
<polygon points="1415,27 1424,27 1419.5,32" fill="#c0c0c0"/>
<rect x="1654" y="48" width="2" height="1" fill="#000" />
<text x="1659" y="52" font-size="9.6" fill="#000" font-family="DejaVu Sans, sans-serif" textLength="32.5" lengthAdjust="spacingAndGlyphs" font-stretch="condensed">152.875</text>
<rect x="1654" y="81" width="2" height="1" fill="#000" />
<text x="1659" y="85" font-size="9.6" fill="#000" font-family="DejaVu Sans, sans-serif" textLength="32.5" lengthAdjust="spacingAndGlyphs" font-stretch="condensed">152.620</text>
<rect x="1654" y="114" width="2" height="1" fill="#000" />
<text x="1659" y="118" font-size="9.6" fill="#000" font-family="DejaVu Sans, sans-serif" textLength="32.5" lengthAdjust="spacingAndGlyphs" font-stretch="condensed">152.370</text>
<rect x="1654" y="147" width="2" height="1" fill="#000" />
<text x="1659" y="151" font-size="9.6" fill="#000" font-family="DejaVu Sans, sans-serif" textLength="32.5" lengthAdjust="spacingAndGlyphs" font-stretch="condensed">152.120</text>
<rect x="1654" y="180" width="2" height="1" fill="#000" />
<text x="1659" y="184" font-size="9.6" fill="#000" font-family="DejaVu Sans, sans-serif" textLength="32.5" lengthAdjust="spacingAndGlyphs" font-stretch="condensed">151.870</text>
<rect x="1654" y="213" width="2" height="1" fill="#000" />
<text x="1659" y="217" font-size="9.6" fill="#000" font-family="DejaVu Sans, sans-serif" textLength="32.5" lengthAdjust="spacingAndGlyphs" font-stretch="condensed">151.620</text>
<rect x="1654" y="279" width="2" height="1" fill="#000" />
<text x="1659" y="283" font-size="9.6" fill="#000" font-family="DejaVu Sans, sans-serif" textLength="32.5" lengthAdjust="spacingAndGlyphs" font-stretch="condensed">151.115</text>
<rect x="1654" y="345" width="2" height="1" fill="#000" />
<text x="1659" y="349" font-size="9.6" fill="#000" font-family="DejaVu Sans, sans-serif" textLength="32.5" lengthAdjust="spacingAndGlyphs" font-stretch="condensed">150.615</text>
<rect x="1654" y="378" width="2" height="1" fill="#000" />
<text x="1659" y="382" font-size="9.6" fill="#000" font-family="DejaVu Sans, sans-serif" textLength="32.5" lengthAdjust="spacingAndGlyphs" font-stretch="condensed">150.365</text>
<rect x="1654" y="411" width="2" height="1" fill="#000" />
<text x="1659" y="415" font-size="9.6" fill="#000" font-family="DejaVu Sans, sans-serif" textLength="32.5" lengthAdjust="spacingAndGlyphs" font-stretch="condensed">150.110</text>
<rect x="1654" y="444" width="2" height="1" fill="#000" />
<text x="1659" y="448" font-size="9.6" fill="#000" font-family="DejaVu Sans, sans-serif" textLength="32.5" lengthAdjust="spacingAndGlyphs" font-stretch="condensed">149.860</text>
<rect x="1654" y="477" width="2" height="1" fill="#000" />
<text x="1659" y="481" font-size="9.6" fill="#000" font-family="DejaVu Sans, sans-serif" textLength="32.5" lengthAdjust="spacingAndGlyphs" font-stretch="condensed">149.610</text>
<rect x="1654" y="510" width="2" height="1" fill="#000" />
<text x="1659" y="514" font-size="9.6" fill="#000" font-family="DejaVu Sans, sans-serif" textLength="32.5" lengthAdjust="spacingAndGlyphs" font-stretch="condensed">149.360</text>
<rect x="1654" y="543" width="2" height="1" fill="#000" />
<text x="1659" y="547" font-size="9.6" fill="#000" font-family="DejaVu Sans, sans-serif" textLength="32.5" lengthAdjust="spacingAndGlyphs" font-stretch="condensed">149.110</text>
<rect x="1654" y="576" width="2" height="1" fill="#000" />
<text x="1659" y="580" font-size="9.6" fill="#000" font-family="DejaVu Sans, sans-serif" textLength="32.5" lengthAdjust="spacingAndGlyphs" font-stretch="condensed">148.860</text>
<rect x="1654" y="246" width="2" height="1" fill="#000" />
<rect x="1655" y="240" width="41" height="11" fill="#ff0000" />
<text x="1659" y="249" font-size="9.6" fill="#fff" font-family="DejaVu Sans, sans-serif" textLength="32.5" lengthAdjust="spacingAndGlyphs" font-stretch="condensed">151.368</text>
<rect x="1654" y="270" width="2" height="1" fill="#000" />
<rect x="1655" y="264" width="41" height="11" fill="#ff0000" />
<text x="1659" y="273" font-size="9.6" fill="#fff" font-family="DejaVu Sans, sans-serif" textLength="32.5" lengthAdjust="spacingAndGlyphs" font-stretch="condensed">151.185</text>
<rect x="1654" y="312" width="2" height="1" fill="#000" />
<rect x="1655" y="306" width="41" height="11" fill="#32cd32" />
<text x="1659" y="315" font-size="9.6" fill="#fff" font-family="DejaVu Sans, sans-serif" textLength="32.5" lengthAdjust="spacingAndGlyphs" font-stretch="condensed">150.867</text>
<rect x="1654" y="337" width="2" height="1" fill="#000" />
<rect x="1655" y="331" width="41" height="11" fill="#0000ff" />
<text x="1659" y="340" font-size="9.6" fill="#fff" font-family="DejaVu Sans, sans-serif" textLength="32.5" lengthAdjust="spacingAndGlyphs" font-stretch="condensed">150.677</text>
<rect x="1654" y="362" width="2" height="1" fill="#000" />
<rect x="1655" y="356" width="41" height="11" fill="#0000ff" />
<text x="1659" y="365" font-size="9.6" fill="#fff" font-family="DejaVu Sans, sans-serif" textLength="32.5" lengthAdjust="spacingAndGlyphs" font-stretch="condensed">150.487</text>
<rect x="1655" y="289" width="41" height="11" fill="#000" />
<text x="1659" y="298" font-size="9.6" fill="#fff" font-family="DejaVu Sans, sans-serif" textLength="32.5" lengthAdjust="spacingAndGlyphs" font-stretch="condensed">151.006</text>
<rect x="1653" y="294" width="1" height="1" fill="#c0c0c0" />
<rect x="2" y="658" width="1" height="6" fill="#c0c0c0" />
<rect x="10" y="658" width="1" height="4" fill="#c0c0c0" />
<rect x="18" y="658" width="1" height="2" fill="#c0c0c0" />
<rect x="26" y="657" width="1" height="2" fill="#c0c0c0" />
<rect x="34" y="655" width="1" height="4" fill="#c0c0c0" />
<rect x="42" y="650" width="1" height="9" fill="#c0c0c0" />
<rect x="50" y="641" width="1" height="18" fill="#c0c0c0" />
<rect x="58" y="635" width="1" height="24" fill="#c0c0c0" />
<rect x="66" y="633" width="1" height="26" fill="#c0c0c0" />
<rect x="74" y="628" width="1" height="31" fill="#c0c0c0" />
<rect x="82" y="627" width="1" height="32" fill="#c0c0c0" />
<rect x="90" y="630" width="1" height="29" fill="#c0c0c0" />
<rect x="98" y="635" width="1" height="24" fill="#c0c0c0" />
<rect x="106" y="638" width="1" height="21" fill="#c0c0c0" />
<rect x="114" y="643" width="1" height="16" fill="#c0c0c0" />
<rect x="122" y="643" width="1" height="16" fill="#c0c0c0" />
<rect x="130" y="641" width="1" height="18" fill="#c0c0c0" />
<rect x="138" y="639" width="1" height="20" fill="#c0c0c0" />
<rect x="146" y="638" width="1" height="21" fill="#c0c0c0" />
<rect x="154" y="637" width="1" height="22" fill="#c0c0c0" />
<rect x="162" y="638" width="1" height="21" fill="#c0c0c0" />
<rect x="170" y="638" width="1" height="21" fill="#c0c0c0" />
<rect x="178" y="638" width="1" height="21" fill="#c0c0c0" />
<rect x="186" y="638" width="1" height="21" fill="#c0c0c0" />
<rect x="194" y="639" width="1" height="20" fill="#c0c0c0" />
<rect x="202" y="638" width="1" height="21" fill="#c0c0c0" />
<rect x="210" y="637" width="1" height="22" fill="#c0c0c0" />
<rect x="218" y="637" width="1" height="22" fill="#c0c0c0" />
<rect x="226" y="635" width="1" height="24" fill="#c0c0c0" />
<rect x="234" y="637" width="1" height="22" fill="#c0c0c0" />
<rect x="242" y="638" width="1" height="21" fill="#c0c0c0" />
<rect x="250" y="639" width="1" height="20" fill="#c0c0c0" />
<rect x="258" y="639" width="1" height="20" fill="#c0c0c0" />
<rect x="266" y="634" width="1" height="25" fill="#c0c0c0" />
<rect x="274" y="630" width="1" height="29" fill="#c0c0c0" />
<rect x="282" y="629" width="1" height="30" fill="#c0c0c0" />
<rect x="290" y="631" width="1" height="28" fill="#c0c0c0" />
<rect x="298" y="632" width="1" height="27" fill="#c0c0c0" />
<rect x="306" y="634" width="1" height="25" fill="#c0c0c0" />
<rect x="314" y="633" width="1" height="26" fill="#c0c0c0" />
<rect x="322" y="633" width="1" height="26" fill="#c0c0c0" />
<rect x="330" y="629" width="1" height="30" fill="#c0c0c0" />
<rect x="338" y="626" width="1" height="33" fill="#c0c0c0" />
<rect x="346" y="624" width="1" height="35" fill="#c0c0c0" />
<rect x="354" y="621" width="1" height="38" fill="#c0c0c0" />
<rect x="362" y="621" width="1" height="38" fill="#c0c0c0" />
<rect x="370" y="621" width="1" height="38" fill="#c0c0c0" />
<rect x="378" y="623" width="1" height="36" fill="#c0c0c0" />
<rect x="386" y="623" width="1" height="36" fill="#c0c0c0" />
<rect x="394" y="624" width="1" height="35" fill="#c0c0c0" />
<rect x="402" y="625" width="1" height="34" fill="#c0c0c0" />
<rect x="410" y="627" width="1" height="32" fill="#c0c0c0" />
<rect x="418" y="628" width="1" height="31" fill="#c0c0c0" />
<rect x="426" y="632" width="1" height="27" fill="#c0c0c0" />
<rect x="434" y="634" width="1" height="25" fill="#c0c0c0" />
<rect x="442" y="636" width="1" height="23" fill="#c0c0c0" />
<rect x="450" y="638" width="1" height="21" fill="#c0c0c0" />
<rect x="458" y="639" width="1" height="20" fill="#c0c0c0" />
<rect x="466" y="645" width="1" height="14" fill="#c0c0c0" />
<rect x="474" y="646" width="1" height="13" fill="#c0c0c0" />
<rect x="482" y="647" width="1" height="12" fill="#c0c0c0" />
<rect x="490" y="647" width="1" height="12" fill="#c0c0c0" />
<rect x="498" y="648" width="1" height="11" fill="#c0c0c0" />
<rect x="506" y="651" width="1" height="8" fill="#c0c0c0" />
<rect x="514" y="652" width="1" height="7" fill="#c0c0c0" />
<rect x="522" y="653" width="1" height="6" fill="#c0c0c0" />
<rect x="530" y="654" width="1" height="5" fill="#c0c0c0" />
<rect x="538" y="656" width="1" height="3" fill="#c0c0c0" />
<rect x="546" y="658" width="1" height="1" fill="#c0c0c0" />
<rect x="554" y="658" width="1" height="4" fill="#c0c0c0" />
<rect x="562" y="658" width="1" height="1" fill="#c0c0c0" />
<rect x="570" y="656" width="1" height="3" fill="#c0c0c0" />
<rect x="578" y="657" width="1" height="2" fill="#c0c0c0" />
<rect x="586" y="656" width="1" height="3" fill="#c0c0c0" />
<rect x="594" y="653" width="1" height="6" fill="#c0c0c0" />
<rect x="602" y="646" width="1" height="13" fill="#c0c0c0" />
<rect x="610" y="641" width="1" height="18" fill="#c0c0c0" />
<rect x="618" y="641" width="1" height="18" fill="#c0c0c0" />
<rect x="626" y="641" width="1" height="18" fill="#c0c0c0" />
<rect x="634" y="643" width="1" height="16" fill="#c0c0c0" />
<rect x="642" y="643" width="1" height="16" fill="#c0c0c0" />
<rect x="650" y="645" width="1" height="14" fill="#c0c0c0" />
<rect x="658" y="645" width="1" height="14" fill="#c0c0c0" />
<rect x="666" y="645" width="1" height="14" fill="#c0c0c0" />
<rect x="674" y="645" width="1" height="14" fill="#c0c0c0" />
<rect x="682" y="645" width="1" height="14" fill="#c0c0c0" />
<rect x="690" y="644" width="1" height="15" fill="#c0c0c0" />
<rect x="698" y="640" width="1" height="19" fill="#c0c0c0" />
<rect x="706" y="638" width="1" height="21" fill="#c0c0c0" />
<rect x="714" y="645" width="1" height="14" fill="#c0c0c0" />
<rect x="722" y="655" width="1" height="4" fill="#c0c0c0" />
<rect x="730" y="658" width="1" height="5" fill="#c0c0c0" />
<rect x="738" y="658" width="1" height="13" fill="#c0c0c0" />
<rect x="746" y="658" width="1" height="19" fill="#c0c0c0" />
<rect x="754" y="658" width="1" height="26" fill="#c0c0c0" />
<rect x="762" y="658" width="1" height="28" fill="#c0c0c0" />
<rect x="770" y="658" width="1" height="29" fill="#c0c0c0" />
<rect x="778" y="658" width="1" height="28" fill="#c0c0c0" />
<rect x="786" y="658" width="1" height="31" fill="#c0c0c0" />
<rect x="794" y="658" width="1" height="33" fill="#c0c0c0" />
<rect x="802" y="658" width="1" height="31" fill="#c0c0c0" />
<rect x="810" y="658" width="1" height="32" fill="#c0c0c0" />
<rect x="818" y="658" width="1" height="31" fill="#c0c0c0" />
<rect x="826" y="658" width="1" height="29" fill="#c0c0c0" />
<rect x="834" y="658" width="1" height="25" fill="#c0c0c0" />
<rect x="842" y="658" width="1" height="21" fill="#c0c0c0" />
<rect x="850" y="658" width="1" height="16" fill="#c0c0c0" />
<rect x="858" y="658" width="1" height="18" fill="#c0c0c0" />
<rect x="866" y="658" width="1" height="22" fill="#c0c0c0" />
<rect x="874" y="658" width="1" height="25" fill="#c0c0c0" />
<rect x="882" y="658" width="1" height="30" fill="#c0c0c0" />
<rect x="890" y="658" width="1" height="41" fill="#c0c0c0" />
<rect x="898" y="658" width="1" height="55" fill="#c0c0c0" />
<rect x="906" y="658" width="1" height="66" fill="#c0c0c0" />
<rect x="914" y="658" width="1" height="74" fill="#c0c0c0" />
<rect x="922" y="658" width="1" height="79" fill="#c0c0c0" />
<rect x="930" y="658" width="1" height="79" fill="#c0c0c0" />
<rect x="938" y="658" width="1" height="75" fill="#c0c0c0" />
<rect x="946" y="658" width="1" height="76" fill="#c0c0c0" />
<rect x="954" y="658" width="1" height="79" fill="#c0c0c0" />
<rect x="962" y="658" width="1" height="82" fill="#c0c0c0" />
<rect x="970" y="658" width="1" height="85" fill="#c0c0c0" />
<rect x="978" y="658" width="1" height="83" fill="#c0c0c0" />
<rect x="986" y="658" width="1" height="82" fill="#c0c0c0" />
<rect x="994" y="658" width="1" height="79" fill="#c0c0c0" />
<rect x="1002" y="658" width="1" height="70" fill="#c0c0c0" />
<rect x="1010" y="658" width="1" height="67" fill="#c0c0c0" />
<rect x="1018" y="658" width="1" height="63" fill="#c0c0c0" />
<rect x="1026" y="658" width="1" height="56" fill="#c0c0c0" />
<rect x="1034" y="658" width="1" height="46" fill="#c0c0c0" />
<rect x="1042" y="658" width="1" height="28" fill="#c0c0c0" />
<rect x="1050" y="658" width="1" height="9" fill="#c0c0c0" />
<rect x="1058" y="652" width="1" height="7" fill="#c0c0c0" />
<rect x="1066" y="640" width="1" height="19" fill="#c0c0c0" />
<rect x="1074" y="629" width="1" height="30" fill="#c0c0c0" />
<rect x="1082" y="622" width="1" height="37" fill="#c0c0c0" />
<rect x="1090" y="621" width="1" height="38" fill="#c0c0c0" />
<rect x="1098" y="616" width="1" height="43" fill="#c0c0c0" />
<rect x="1106" y="614" width="1" height="45" fill="#c0c0c0" />
<rect x="1114" y="613" width="1" height="46" fill="#c0c0c0" />
<rect x="1122" y="615" width="1" height="44" fill="#c0c0c0" />
<rect x="1130" y="613" width="1" height="46" fill="#c0c0c0" />
<rect x="1138" y="607" width="1" height="52" fill="#c0c0c0" />
<rect x="1146" y="600" width="1" height="59" fill="#c0c0c0" />
<rect x="1154" y="597" width="1" height="62" fill="#c0c0c0" />
<rect x="1162" y="595" width="1" height="64" fill="#c0c0c0" />
<rect x="1170" y="591" width="1" height="68" fill="#c0c0c0" />
<rect x="1178" y="591" width="1" height="68" fill="#c0c0c0" />
<rect x="1186" y="599" width="1" height="60" fill="#c0c0c0" />
<rect x="1194" y="615" width="1" height="44" fill="#c0c0c0" />
<rect x="1202" y="626" width="1" height="33" fill="#c0c0c0" />
<rect x="1210" y="633" width="1" height="26" fill="#c0c0c0" />
<rect x="1218" y="641" width="1" height="18" fill="#c0c0c0" />
<rect x="1226" y="652" width="1" height="7" fill="#c0c0c0" />
<rect x="1234" y="658" width="1" height="6" fill="#c0c0c0" />
<rect x="1242" y="658" width="1" height="14" fill="#c0c0c0" />
<rect x="1250" y="658" width="1" height="22" fill="#c0c0c0" />
<rect x="1258" y="658" width="1" height="26" fill="#c0c0c0" />
<rect x="1266" y="658" width="1" height="26" fill="#c0c0c0" />
<rect x="1274" y="658" width="1" height="28" fill="#c0c0c0" />
<rect x="1282" y="658" width="1" height="27" fill="#c0c0c0" />
<rect x="1290" y="658" width="1" height="30" fill="#c0c0c0" />
<rect x="1298" y="658" width="1" height="35" fill="#c0c0c0" />
<rect x="1306" y="658" width="1" height="37" fill="#c0c0c0" />
<rect x="1314" y="658" width="1" height="44" fill="#c0c0c0" />
<rect x="1322" y="658" width="1" height="47" fill="#c0c0c0" />
<rect x="1330" y="658" width="1" height="40" fill="#c0c0c0" />
<rect x="1338" y="658" width="1" height="33" fill="#c0c0c0" />
<rect x="1346" y="658" width="1" height="29" fill="#c0c0c0" />
<rect x="1354" y="658" width="1" height="24" fill="#c0c0c0" />
<rect x="1362" y="658" width="1" height="23" fill="#c0c0c0" />
<rect x="1370" y="658" width="1" height="17" fill="#c0c0c0" />
<rect x="1378" y="658" width="1" height="8" fill="#c0c0c0" />
<rect x="1386" y="658" width="1" height="3" fill="#c0c0c0" />
<rect x="1394" y="655" width="1" height="4" fill="#c0c0c0" />
<rect x="1402" y="651" width="1" height="8" fill="#c0c0c0" />
<rect x="1410" y="648" width="1" height="11" fill="#c0c0c0" />
<polyline points="-5.5,684.0 2.5,681.8 10.5,674.4 18.5,671.1 26.5,668.1 34.5,664.8 42.5,661.1 50.5,658.5 58.5,655.4 66.5,650.8 74.5,646.9 82.5,643.2 90.5,640.0 98.5,637.5 106.5,635.6 114.5,634.9 122.5,635.1 130.5,635.8 138.5,636.5 146.5,637.6 154.5,638.8 162.5,639.7 170.5,640.0 178.5,640.0 186.5,639.4 194.5,639.0 202.5,638.7 210.5,638.5 218.5,638.4 226.5,638.1 234.5,638.0 242.5,638.1 250.5,638.1 258.5,638.2 266.5,637.6 274.5,636.7 282.5,635.8 290.5,635.2 298.5,634.8 306.5,634.4 314.5,633.9 322.5,633.3 330.5,632.2 338.5,631.4 346.5,630.7 354.5,629.8 362.5,628.7 370.5,627.5 378.5,626.4 386.5,625.2 394.5,624.2 402.5,623.7 410.5,623.7 418.5,624.2 426.5,625.4 434.5,626.9 442.5,628.6 450.5,630.1 458.5,631.9 466.5,634.3 474.5,636.6 482.5,638.9 490.5,641.0 498.5,642.7 506.5,644.5 514.5,646.2 522.5,648.0 530.5,649.6 538.5,650.8 546.5,652.2 554.5,653.8 562.5,655.1 570.5,656.0 578.5,656.7 586.5,657.2 594.5,657.1 602.5,656.2 610.5,654.6 618.5,652.6 626.5,650.4 634.5,648.7 642.5,647.3 650.5,645.9 658.5,644.6 666.5,643.7 674.5,643.6 682.5,644.1 690.5,644.4 698.5,644.2 706.5,643.7 714.5,643.8 722.5,645.0 730.5,646.9 738.5,649.8 746.5,653.2 754.5,657.4 762.5,662.0 770.5,667.2 778.5,672.5 786.5,677.3 794.5,681.1 802.5,684.0 810.5,686.2 818.5,687.5 826.5,687.9 834.5,687.5 842.5,686.7 850.5,685.4 858.5,683.9 866.5,682.7 874.5,682.0 882.5,681.7 890.5,682.8 898.5,685.7 906.5,690.2 914.5,696.1 922.5,703.1 930.5,709.8 938.5,715.7 946.5,721.4 954.5,726.9 962.5,731.4 970.5,734.8 978.5,736.6 986.5,737.5 994.5,737.4 1002.5,736.5 1010.5,735.6 1018.5,734.1 1026.5,731.5 1034.5,727.5 1042.5,721.1 1050.5,712.9 1058.5,703.3 1066.5,692.7 1074.5,681.8 1082.5,670.5 1090.5,659.5 1098.5,648.8 1106.5,638.9 1114.5,630.9 1122.5,625.2 1130.5,620.9 1138.5,617.2 1146.5,613.9 1154.5,611.1 1162.5,608.3 1170.5,605.4 1178.5,602.8 1186.5,601.2 1194.5,601.3 1202.5,602.7 1210.5,605.7 1218.5,610.2 1226.5,616.3 1234.5,623.8 1242.5,632.8 1250.5,642.6 1258.5,651.9 1266.5,659.5 1274.5,666.1 1282.5,671.7 1290.5,676.8 1298.5,681.3 1306.5,684.7 1314.5,688.0 1322.5,690.8 1330.5,692.4 1338.5,693.2 1346.5,693.2 1354.5,693.0 1362.5,692.2 1370.5,690.2 1378.5,687.0 1386.5,682.4 1394.5,677.0 1402.5,672.0 1410.5,667.3" fill="none" stroke="#ff0000" stroke-width="1" stroke-dasharray="3 3"/>
<line x1="1332.6" y1="697.6" x2="1398.2" y2="647.9" stroke="#ff0000" stroke-width="3"/>
<polygon points="1404.6,643.1 1399.3,652.7 1393.9,645.5" fill="#ff0000" stroke="#ff0000" stroke-width="1"/>
<text x="-0.5" y="593.5" font-size="9.6" fill="#000" font-family="DejaVu Sans, sans-serif" textLength="64" lengthAdjust="spacingAndGlyphs" font-stretch="condensed">MACD(12,26,9)</text>
<text x="67.2" y="593.5" font-size="9.6" fill="#000" font-family="DejaVu Sans, sans-serif" textLength="27" lengthAdjust="spacingAndGlyphs" font-stretch="condensed">0.0651</text>
<text x="98" y="593.5" font-size="9.6" fill="#000" font-family="DejaVu Sans, sans-serif" textLength="30.2" lengthAdjust="spacingAndGlyphs" font-stretch="condensed">-0.0637</text>
<rect x="1654" y="583" width="2" height="1" fill="#000" />
<text x="1657" y="592" font-size="9.6" fill="#000" font-family="DejaVu Sans, sans-serif" textLength="27" lengthAdjust="spacingAndGlyphs" font-stretch="condensed">0.5251</text>
<rect x="1654" y="658" width="2" height="1" fill="#000" />
<text x="1657" y="662" font-size="9.6" fill="#000" font-family="DejaVu Sans, sans-serif" textLength="17" lengthAdjust="spacingAndGlyphs" font-stretch="condensed">0.00</text>
<rect x="1654" y="750" width="2" height="1" fill="#000" />
<text x="1657" y="748" font-size="9.6" fill="#000" font-family="DejaVu Sans, sans-serif" textLength="30" lengthAdjust="spacingAndGlyphs" font-stretch="condensed">-0.6454</text>
<line x1="0" y1="789.5" x2="1653" y2="789.5" stroke="#c0c0c0" stroke-width="1" stroke-dasharray="3 3" stroke-dashoffset="-1"/>
<line x1="0" y1="840.5" x2="1653" y2="840.5" stroke="#c0c0c0" stroke-width="1" stroke-dasharray="3 3" stroke-dashoffset="-1"/>
<line x1="0" y1="901.5" x2="1653" y2="901.5" stroke="#c0c0c0" stroke-width="1" stroke-dasharray="3 3" stroke-dashoffset="-1"/>
<polyline points="-5.5,838.8 2.5,835.0 10.5,833.7 18.5,834.1 26.5,836.2 34.5,828.8 42.5,817.8 50.5,807.0 58.5,806.3 66.5,818.0 74.5,810.1 82.5,821.4 90.5,834.3 98.5,842.5 106.5,840.8 114.5,846.4 122.5,831.9 130.5,828.7 138.5,825.3 146.5,826.5 154.5,826.7 162.5,829.6 170.5,828.2 178.5,827.6 186.5,826.9 194.5,826.9 202.5,823.6 210.5,819.5 218.5,819.0 226.5,814.3 234.5,828.0 242.5,831.5 250.5,825.2 258.5,825.2 266.5,804.1 274.5,806.5 282.5,814.9 290.5,830.4 298.5,824.8 306.5,830.3 314.5,823.0 322.5,823.4 330.5,809.1 338.5,808.3 346.5,808.1 354.5,805.3 362.5,811.5 370.5,814.3 378.5,821.6 386.5,814.5 394.5,816.3 402.5,816.3 410.5,821.3 418.5,820.1 426.5,835.8 434.5,832.1 442.5,830.3 450.5,826.6 458.5,828.6 466.5,857.1 474.5,836.2 482.5,833.7 490.5,834.7 498.5,834.9 506.5,846.7 514.5,840.6 522.5,842.3 530.5,839.9 538.5,848.0 546.5,851.6 554.5,855.8 562.5,831.1 570.5,829.0 578.5,843.3 586.5,837.6 594.5,825.8 602.5,814.6 610.5,814.8 618.5,830.6 626.5,833.1 634.5,835.5 642.5,832.9 650.5,837.2 658.5,831.7 666.5,831.7 674.5,832.0 682.5,832.2 690.5,823.1 698.5,812.7 706.5,819.5 714.5,852.6 722.5,865.7 730.5,861.5 738.5,866.0 746.5,866.2 754.5,873.6 762.5,858.1 770.5,855.2 778.5,853.0 786.5,861.4 794.5,862.5 802.5,852.1 810.5,858.9 818.5,852.3 826.5,850.7 834.5,842.5 842.5,839.4 850.5,834.5 858.5,853.4 866.5,859.6 874.5,860.2 882.5,867.4 890.5,880.5 898.5,886.9 906.5,888.2 914.5,888.8 922.5,885.4 930.5,870.6 938.5,864.0 946.5,871.8 954.5,876.5 962.5,879.3 970.5,881.4 978.5,866.5 986.5,870.5 994.5,864.1 1002.5,850.5 1010.5,857.6 1018.5,856.2 1026.5,847.6 1034.5,837.8 1042.5,820.6 1050.5,812.7 1058.5,815.7 1066.5,814.8 1074.5,812.0 1082.5,815.4 1090.5,824.8 1098.5,818.6 1106.5,822.3 1114.5,821.0 1122.5,828.4 1130.5,820.4 1138.5,812.6 1146.5,809.1 1154.5,810.8 1162.5,814.0 1170.5,806.8 1178.5,816.7 1186.5,835.7 1194.5,853.1 1202.5,847.8 1210.5,845.4 1218.5,847.3 1226.5,856.8 1234.5,860.0 1242.5,860.2 1250.5,861.4 1258.5,858.4 1266.5,849.7 1274.5,854.0 1282.5,847.0 1290.5,856.8 1298.5,862.0 1306.5,856.0 1314.5,866.9 1322.5,860.3 1330.5,841.4 1338.5,839.7 1346.5,841.5 1354.5,840.7 1362.5,846.2 1370.5,835.2 1378.5,827.4 1386.5,833.5 1394.5,831.5 1402.5,831.0 1410.5,830.9" fill="none" stroke="#1e90ff" stroke-width="1" />
<line x1="1328.0" y1="852.7" x2="1406.8" y2="831.5" stroke="#ff0000" stroke-width="3"/>
<polygon points="1415.5,829.2 1406.0,836.4 1403.7,827.7" fill="#ff0000" stroke="#ff0000" stroke-width="1"/>
<text x="-1.5" y="766" font-size="9.6" fill="#000" font-family="DejaVu Sans, sans-serif" textLength="31" lengthAdjust="spacingAndGlyphs" font-stretch="condensed">RSI(14)</text>
<text x="32.9" y="766" font-size="9.6" fill="#000" font-family="DejaVu Sans, sans-serif" textLength="32.5" lengthAdjust="spacingAndGlyphs" font-stretch="condensed">55.6846</text>
<rect x="1654" y="755" width="2" height="1" fill="#000" />
<text x="1657" y="764" font-size="9.6" fill="#000" font-family="DejaVu Sans, sans-serif" textLength="14" lengthAdjust="spacingAndGlyphs" font-stretch="condensed">100</text>
<rect x="1654" y="789" width="2" height="1" fill="#000" />
<text x="1657" y="793" font-size="9.6" fill="#000" font-family="DejaVu Sans, sans-serif" textLength="9" lengthAdjust="spacingAndGlyphs" font-stretch="condensed">80</text>
<rect x="1654" y="840" width="2" height="1" fill="#000" />
<text x="1657" y="844" font-size="9.6" fill="#000" font-family="DejaVu Sans, sans-serif" textLength="9" lengthAdjust="spacingAndGlyphs" font-stretch="condensed">50</text>
<rect x="1654" y="901" width="2" height="1" fill="#000" />
<text x="1657" y="905" font-size="9.6" fill="#000" font-family="DejaVu Sans, sans-serif" textLength="9" lengthAdjust="spacingAndGlyphs" font-stretch="condensed">15</text>
<rect x="1654" y="926" width="2" height="1" fill="#000" />
<text x="1657" y="924" font-size="9.6" fill="#000" font-family="DejaVu Sans, sans-serif" textLength="5" lengthAdjust="spacingAndGlyphs" font-stretch="condensed">0</text>
<text x="-6" y="940" font-size="9.6" fill="#000" font-family="DejaVu Sans, sans-serif" textLength="52" lengthAdjust="spacingAndGlyphs" font-stretch="condensed">24 Aug 2021</text>
<rect x="58" y="928" width="1" height="3" fill="#000" />
<text x="57" y="940" font-size="9.6" fill="#000" font-family="DejaVu Sans, sans-serif" textLength="54.5" lengthAdjust="spacingAndGlyphs" font-stretch="condensed">25 Aug 20:00</text>
<rect x="122" y="928" width="1" height="3" fill="#000" />
<text x="121" y="940" font-size="9.6" fill="#000" font-family="DejaVu Sans, sans-serif" textLength="54.5" lengthAdjust="spacingAndGlyphs" font-stretch="condensed">27 Aug 04:00</text>
<rect x="186" y="928" width="1" height="3" fill="#000" />
<text x="185" y="940" font-size="9.6" fill="#000" font-family="DejaVu Sans, sans-serif" textLength="54.5" lengthAdjust="spacingAndGlyphs" font-stretch="condensed">30 Aug 12:00</text>
<rect x="250" y="928" width="1" height="3" fill="#000" />
<text x="249" y="940" font-size="9.6" fill="#000" font-family="DejaVu Sans, sans-serif" textLength="54.5" lengthAdjust="spacingAndGlyphs" font-stretch="condensed">31 Aug 20:00</text>
<rect x="314" y="928" width="1" height="3" fill="#000" />
<text x="313" y="940" font-size="9.6" fill="#000" font-family="DejaVu Sans, sans-serif" textLength="49" lengthAdjust="spacingAndGlyphs" font-stretch="condensed">2 Sep 04:00</text>
<rect x="378" y="928" width="1" height="3" fill="#000" />
<text x="377" y="940" font-size="9.6" fill="#000" font-family="DejaVu Sans, sans-serif" textLength="49" lengthAdjust="spacingAndGlyphs" font-stretch="condensed">3 Sep 12:00</text>
<rect x="442" y="928" width="1" height="3" fill="#000" />
<text x="441" y="940" font-size="9.6" fill="#000" font-family="DejaVu Sans, sans-serif" textLength="49" lengthAdjust="spacingAndGlyphs" font-stretch="condensed">6 Sep 20:00</text>
<rect x="506" y="928" width="1" height="3" fill="#000" />
<text x="505" y="940" font-size="9.6" fill="#000" font-family="DejaVu Sans, sans-serif" textLength="49" lengthAdjust="spacingAndGlyphs" font-stretch="condensed">8 Sep 04:00</text>
<rect x="570" y="928" width="1" height="3" fill="#000" />
<text x="569" y="940" font-size="9.6" fill="#000" font-family="DejaVu Sans, sans-serif" textLength="49" lengthAdjust="spacingAndGlyphs" font-stretch="condensed">9 Sep 12:00</text>
<rect x="634" y="928" width="1" height="3" fill="#000" />
<text x="633" y="940" font-size="9.6" fill="#000" font-family="DejaVu Sans, sans-serif" textLength="54" lengthAdjust="spacingAndGlyphs" font-stretch="condensed">12 Sep 23:00</text>
<rect x="698" y="928" width="1" height="3" fill="#000" />
<text x="697" y="940" font-size="9.6" fill="#000" font-family="DejaVu Sans, sans-serif" textLength="54" lengthAdjust="spacingAndGlyphs" font-stretch="condensed">14 Sep 04:00</text>
<rect x="762" y="928" width="1" height="3" fill="#000" />
<text x="761" y="940" font-size="9.6" fill="#000" font-family="DejaVu Sans, sans-serif" textLength="54" lengthAdjust="spacingAndGlyphs" font-stretch="condensed">15 Sep 12:00</text>
<rect x="826" y="928" width="1" height="3" fill="#000" />
<text x="825" y="940" font-size="9.6" fill="#000" font-family="DejaVu Sans, sans-serif" textLength="54" lengthAdjust="spacingAndGlyphs" font-stretch="condensed">16 Sep 20:00</text>
<rect x="890" y="928" width="1" height="3" fill="#000" />
<text x="889" y="940" font-size="9.6" fill="#000" font-family="DejaVu Sans, sans-serif" textLength="54" lengthAdjust="spacingAndGlyphs" font-stretch="condensed">20 Sep 04:00</text>
<rect x="954" y="928" width="1" height="3" fill="#000" />
<text x="953" y="940" font-size="9.6" fill="#000" font-family="DejaVu Sans, sans-serif" textLength="54" lengthAdjust="spacingAndGlyphs" font-stretch="condensed">21 Sep 12:00</text>
<rect x="1018" y="928" width="1" height="3" fill="#000" />
<text x="1017" y="940" font-size="9.6" fill="#000" font-family="DejaVu Sans, sans-serif" textLength="54" lengthAdjust="spacingAndGlyphs" font-stretch="condensed">22 Sep 20:00</text>
<rect x="1082" y="928" width="1" height="3" fill="#000" />
<text x="1081" y="940" font-size="9.6" fill="#000" font-family="DejaVu Sans, sans-serif" textLength="54" lengthAdjust="spacingAndGlyphs" font-stretch="condensed">24 Sep 04:00</text>
<rect x="1146" y="928" width="1" height="3" fill="#000" />
<text x="1145" y="940" font-size="9.6" fill="#000" font-family="DejaVu Sans, sans-serif" textLength="54" lengthAdjust="spacingAndGlyphs" font-stretch="condensed">27 Sep 12:00</text>
<rect x="1210" y="928" width="1" height="3" fill="#000" />
<text x="1209" y="940" font-size="9.6" fill="#000" font-family="DejaVu Sans, sans-serif" textLength="54" lengthAdjust="spacingAndGlyphs" font-stretch="condensed">28 Sep 20:00</text>
<rect x="1274" y="928" width="1" height="3" fill="#000" />
<text x="1273" y="940" font-size="9.6" fill="#000" font-family="DejaVu Sans, sans-serif" textLength="54" lengthAdjust="spacingAndGlyphs" font-stretch="condensed">30 Sep 04:00</text>
<rect x="1338" y="928" width="1" height="3" fill="#000" />
<text x="1337" y="940" font-size="9.6" fill="#000" font-family="DejaVu Sans, sans-serif" textLength="47.7" lengthAdjust="spacingAndGlyphs" font-stretch="condensed">1 Oct 12:00</text>
<rect x="1402" y="928" width="1" height="3" fill="#000" />
<text x="1401" y="940" font-size="9.6" fill="#000" font-family="DejaVu Sans, sans-serif" textLength="47.7" lengthAdjust="spacingAndGlyphs" font-stretch="condensed">4 Oct 20:00</text>
<polygon points="0,32.5 4.5,37 0,37" fill="#000"/>
<text x="9.5" y="38" font-size="9.6" fill="#000" font-family="DejaVu Sans, sans-serif" textLength="52.5" lengthAdjust="spacingAndGlyphs" font-stretch="condensed">GBPJPY-,H4</text>
<text x="68.6" y="38" font-size="9.6" fill="#000" font-family="DejaVu Sans, sans-serif" textLength="31.8" lengthAdjust="spacingAndGlyphs" font-stretch="condensed">150.997</text>
<text x="104.6" y="38" font-size="9.6" fill="#000" font-family="DejaVu Sans, sans-serif" textLength="31.8" lengthAdjust="spacingAndGlyphs" font-stretch="condensed">151.006</text>
<text x="140.8" y="38" font-size="9.6" fill="#000" font-family="DejaVu Sans, sans-serif" textLength="31.8" lengthAdjust="spacingAndGlyphs" font-stretch="condensed">150.984</text>
<text x="176.7" y="38" font-size="9.6" fill="#000" font-family="DejaVu Sans, sans-serif" textLength="31.8" lengthAdjust="spacingAndGlyphs" font-stretch="condensed">151.006</text>
<defs>
<linearGradient id="gTop" x1="0" y1="0" x2="0" y2="1"><stop offset="0" stop-color="#5e5eff"/><stop offset="1" stop-color="#3434e6"/></linearGradient>
<linearGradient id="gBot" x1="0" y1="0" x2="0" y2="1"><stop offset="0" stop-color="#2a2ada"/><stop offset="1" stop-color="#0000b2"/></linearGradient>
<linearGradient id="gBtn" x1="0" y1="0" x2="0" y2="1"><stop offset="0" stop-color="#f2f2f2"/><stop offset="0.45" stop-color="#ebebeb"/><stop offset="0.5" stop-color="#dddddd"/><stop offset="1" stop-color="#d0d0d0"/></linearGradient>
</defs>
<rect x="0" y="46" width="49" height="24" fill="url(#gTop)" />
<rect x="0" y="46" width="49" height="1" fill="#1c1cc8" />
<rect x="0" y="70" width="106" height="33" fill="url(#gBot)" />
<rect x="1" y="70" width="45" height="1" fill="#8080ff" />
<text x="10" y="62" font-size="11.5" fill="#fff" font-family="DejaVu Sans, sans-serif" textLength="25" lengthAdjust="spacingAndGlyphs" font-stretch="condensed">SELL</text>
<text x="21" y="98" font-size="11.5" fill="#fff" font-family="DejaVu Sans, sans-serif" textLength="20" lengthAdjust="spacingAndGlyphs" font-stretch="condensed" font-weight="bold">151</text>
<text x="45.3" y="98" font-size="32.5" fill="#fff" font-family="DejaVu Sans, sans-serif" textLength="34.5" lengthAdjust="spacingAndGlyphs" font-stretch="condensed">00</text>
<text x="84.5" y="82" font-size="11.5" fill="#fff" font-family="DejaVu Sans, sans-serif" textLength="6.5" lengthAdjust="spacingAndGlyphs" font-stretch="condensed" font-weight="bold">6</text>
<rect x="164" y="46" width="52" height="24" fill="url(#gTop)" />
<rect x="164" y="46" width="52" height="1" fill="#1c1cc8" />
<rect x="108" y="70" width="108" height="33" fill="url(#gBot)" />
<rect x="168" y="70" width="44" height="1" fill="#8080ff" />
<text x="177.5" y="62" font-size="11.5" fill="#fff" font-family="DejaVu Sans, sans-serif" textLength="23.5" lengthAdjust="spacingAndGlyphs" font-stretch="condensed">BUY</text>
<text x="130.7" y="98" font-size="11.5" fill="#fff" font-family="DejaVu Sans, sans-serif" textLength="20" lengthAdjust="spacingAndGlyphs" font-stretch="condensed" font-weight="bold">151</text>
<text x="155.9" y="98" font-size="32.5" fill="#fff" font-family="DejaVu Sans, sans-serif" textLength="34.5" lengthAdjust="spacingAndGlyphs" font-stretch="condensed">04</text>
<text x="195.5" y="82" font-size="11.5" fill="#fff" font-family="DejaVu Sans, sans-serif" textLength="6.5" lengthAdjust="spacingAndGlyphs" font-stretch="condensed" font-weight="bold">5</text>
<rect x="51" y="46" width="111" height="22" fill="#a9a9a9" />
<rect x="52" y="47" width="109" height="20" fill="#fff" />
<rect x="52" y="47" width="20" height="20" fill="url(#gBtn)" />
<rect x="72" y="47" width="1" height="20" fill="#b4b4b4" />
<rect x="141" y="47" width="20" height="20" fill="url(#gBtn)" />
<rect x="140" y="47" width="1" height="20" fill="#b4b4b4" />
<polygon points="59,55 64.5,55 61.75,58" fill="#5068b0"/>
<polygon points="148,58 153.5,58 150.75,55" fill="#5068b0"/>
<text x="113.8" y="61" font-size="12.3" fill="#000" font-family="DejaVu Sans, sans-serif" textLength="23" lengthAdjust="spacingAndGlyphs" font-stretch="condensed">1.00</text>
<g shape-rendering="auto"><circle cx="0" cy="9" r="4.5" fill="#cfe6fb" stroke="#3a78c8" stroke-width="1.2"/>
<line x1="3" y1="12" x2="6.5" y2="18" stroke="#c8a830" stroke-width="2"/>
<rect x="14" y="1" width="1" height="19" fill="#a0a0a0"/><rect x="15" y="1" width="1" height="19" fill="#ffffff"/>
<path d="M24.5,2.5 h8 l3,3 v10 h-11 z" fill="#fafafa" stroke="#808080"/>
<rect x="26" y="5" width="4" height="1" fill="#999"/><rect x="26" y="9" width="6" height="1" fill="#999"/><rect x="26" y="11" width="6" height="1" fill="#999"/>
<path d="M32,8 h3 v4 h4 v3 h-4 v4 h-3 v-4 h-4 v-3 h4 z" fill="#22cc22" stroke="#119911" stroke-width="0.8"/>
<text x="43" y="13.6" font-size="12.5" fill="#000" font-family="Liberation Sans, Noto Sans CJK SC, sans-serif" textLength="36" lengthAdjust="spacingAndGlyphs">新订单</text>
<defs><linearGradient id="gGold" x1="0" y1="0" x2="1" y2="1"><stop offset="0" stop-color="#ffe040"/><stop offset="1" stop-color="#d09a10"/></linearGradient><linearGradient id="gCloud" x1="0" y1="0" x2="0" y2="1"><stop offset="0" stop-color="#ffffff"/><stop offset="1" stop-color="#b8c4dc"/></linearGradient></defs>
<path d="M96.8,3.2 L106,11.2 L98.6,17.5 L91.2,11.8 L94.6,8.4 Z" fill="url(#gGold)" stroke="#a8640c" stroke-width="1.1" stroke-linejoin="round"/>
<path d="M92.6,12.4 L98.6,16.6" stroke="#f8e8a0" stroke-width="1.2"/><path d="M99.5,16.2 L105,11.8" stroke="#e8e0b0" stroke-width="1"/>
<path d="M121,3 L123.5,2.2 L132,2.2 L132,12 L121,12 Z" fill="#1a90f0"/><path d="M121.5,3.5 L124.5,6 L124.5,12" stroke="#d0ecff" stroke-width="0.9" fill="none"/>
<rect x="126" y="6.5" width="5" height="1.5" fill="#e8f6ff"/>
<path d="M120.5,17.5 Q118.2,17 119.2,14.2 Q120.5,12.2 122.8,13 Q123.8,10.2 127,10.4 Q129.6,10.6 130.4,12.6 Q133.8,11.8 134.6,14.6 Q135.2,17.4 132.4,17.6 Z" fill="url(#gCloud)" stroke="#3c5a98" stroke-width="1"/>
<defs><linearGradient id="gSig" x1="0" y1="0" x2="0" y2="1"><stop offset="0" stop-color="#e4f0e4"/><stop offset="1" stop-color="#30b030"/></linearGradient></defs>
<path d="M155.2,10 L155.2,2 A8,8 0 0 1 155.2,18 Z" fill="url(#gSig)" opacity="0.75"/>
<circle cx="155.2" cy="10" r="7.3" fill="none" stroke="#4a7ad0" stroke-width="0.9" opacity="0.8"/>
<circle cx="155.2" cy="10" r="4.6" fill="none" stroke="#4a7ad0" stroke-width="0.9" opacity="0.8"/>
<circle cx="155.2" cy="10" r="2" fill="#2050c8"/>
<path d="M155.5,10 v7.8" stroke="#20a020" stroke-width="1.2" fill="none"/>
<path d="M175,9.5 L189.5,9.5 L182.5,17.6 Z" fill="#f6dc50" stroke="#c89a18" stroke-width="1" stroke-linejoin="round"/>
<ellipse cx="182.2" cy="7.3" rx="7.6" ry="2.6" fill="#6ab4ec" stroke="#2a7cb8" stroke-width="0.9"/>
<ellipse cx="181.8" cy="5" rx="3.6" ry="2.9" fill="#8cccf4" stroke="#2a7cb8" stroke-width="0.8"/>
<circle cx="186.5" cy="13.8" r="4" fill="#e02010" stroke="#b01000" stroke-width="0.6"/><rect x="185" y="12.3" width="3" height="3" fill="#fff"/>
<text x="195" y="13.6" font-size="12.5" fill="#000" font-family="Liberation Sans, Noto Sans CJK SC, sans-serif" textLength="47" lengthAdjust="spacingAndGlyphs">自动交易</text>
<rect x="250" y="1" width="1" height="19" fill="#a0a0a0"/><rect x="251" y="1" width="1" height="19" fill="#ffffff"/>
<rect x="254" y="1" width="3" height="1" fill="#a8a8a8"/>
<rect x="254" y="3" width="3" height="1" fill="#a8a8a8"/>
<rect x="254" y="5" width="3" height="1" fill="#a8a8a8"/>
<rect x="254" y="7" width="3" height="1" fill="#a8a8a8"/>
<rect x="254" y="9" width="3" height="1" fill="#a8a8a8"/>
<rect x="254" y="11" width="3" height="1" fill="#a8a8a8"/>
<rect x="254" y="13" width="3" height="1" fill="#a8a8a8"/>
<rect x="254" y="15" width="3" height="1" fill="#a8a8a8"/>
<rect x="254" y="17" width="3" height="1" fill="#a8a8a8"/>
<rect x="254" y="19" width="3" height="1" fill="#a8a8a8"/>
<path d="M268.5,3 v13.5 M266,16.5 h14" stroke="#555" stroke-width="1" fill="none"/>
<path d="M266.5,5 l2,-2.5 l2,2.5 M278,14.5 l2.5,2 l-2.5,2" stroke="#555" stroke-width="1" fill="none"/>
<path d="M274.5,5.5 v8 M275,6 h2 M272,12.5 h2.5" stroke="#22aa22" stroke-width="1.2" fill="none"/>
<rect x="289" y="0" width="24" height="21" fill="#f6f6f6"/>
<rect x="288" y="1" width="1" height="19" fill="#a0a0a0"/><rect x="289" y="1" width="1" height="19" fill="#ffffff"/>
<path d="M296.5,3 v13.5 M294,16.5 h14" stroke="#555" stroke-width="1" fill="none"/>
<path d="M294.5,5 l2,-2.5 l2,2.5 M306,14.5 l2.5,2 l-2.5,2" stroke="#555" stroke-width="1" fill="none"/>
<rect x="300.5" y="4.5" width="4" height="8" fill="#22dd44" stroke="#119922"/><path d="M302.5,2 v2.5 M302.5,12.5 v2.5" stroke="#119922"/>
<path d="M324.5,3 v13.5 M322,16.5 h14" stroke="#555" stroke-width="1" fill="none"/>
<path d="M322.5,5 l2,-2.5 l2,2.5 M334,14.5 l2.5,2 l-2.5,2" stroke="#555" stroke-width="1" fill="none"/>
<path d="M324,12 Q329,3 335,10" stroke="#22aa22" stroke-width="1.2" fill="none"/>
<rect x="345" y="1" width="1" height="19" fill="#a0a0a0"/><rect x="346" y="1" width="1" height="19" fill="#ffffff"/>
<line x1="363.5" y1="12" x2="368.5" y2="17" stroke="#c8a020" stroke-width="2.5"/>
<circle cx="360" cy="8" r="5.3" fill="#d8ecfc" stroke="#3a78c8" stroke-width="1.2"/>
<rect x="357" y="7" width="6" height="2" fill="#3a78c8"/>
<rect x="359" y="5" width="2" height="6" fill="#3a78c8"/>
<line x1="391.0" y1="12" x2="396.0" y2="17" stroke="#c8a020" stroke-width="2.5"/>
<circle cx="387.5" cy="8" r="5.3" fill="#d8ecfc" stroke="#3a78c8" stroke-width="1.2"/>
<rect x="384.5" y="7" width="6" height="2" fill="#3a78c8"/>
<rect x="410" y="2" width="8" height="8" fill="#3aa030"/><rect x="411" y="5" width="6" height="3" fill="#eef"/>
<rect x="418" y="2" width="8" height="8" fill="#2a60d0"/><rect x="419" y="5" width="6" height="3" fill="#eef"/>
<rect x="410" y="10" width="8" height="8" fill="#2a60d0"/><rect x="411" y="13" width="6" height="3" fill="#eef"/>
<rect x="418" y="10" width="8" height="8" fill="#3aa030"/><rect x="419" y="13" width="6" height="3" fill="#eef"/>
<rect x="435" y="1" width="1" height="19" fill="#a0a0a0"/><rect x="436" y="1" width="1" height="19" fill="#ffffff"/>
<rect x="440" y="0" width="26" height="21" fill="#f6f6f6"/>
<path d="M448.5,3 v13.5 M446,16.5 h14" stroke="#555" stroke-width="1" fill="none"/>
<path d="M446.5,5 l2,-2.5 l2,2.5 M458,14.5 l2.5,2 l-2.5,2" stroke="#555" stroke-width="1" fill="none"/>
<path d="M453,7 v6 l4,-3 z" fill="none" stroke="#22aa22" stroke-width="1.2"/>
<rect x="468" y="1" width="1" height="19" fill="#a0a0a0"/><rect x="469" y="1" width="1" height="19" fill="#ffffff"/>
<rect x="469" y="0" width="25" height="21" fill="#f6f6f6"/>
<path d="M476.5,3 v13.5 M474,16.5 h14" stroke="#555" stroke-width="1" fill="none"/>
<path d="M474.5,5 l2,-2.5 l2,2.5 M486,14.5 l2.5,2 l-2.5,2" stroke="#555" stroke-width="1" fill="none"/>
<path d="M482.5,4 v11" stroke="#2060c0" stroke-width="1"/><path d="M484,9.5 h4 M484,9.5 l2,-2 M484,9.5 l2,2" stroke="#e04020" stroke-width="1.2"/>
<rect x="497" y="1" width="1" height="19" fill="#a0a0a0"/><rect x="498" y="1" width="1" height="19" fill="#ffffff"/>
<path d="M507.5,2.5 h7 l3,3 v10 h-10 z" fill="#fafafa" stroke="#808080"/>
<path d="M514,9 h3 v4 h4 v3 h-4 v4 h-3 v-4 h-4 v-3 h4 z" fill="#22cc22" stroke="#119911" stroke-width="0.8"/>
<polygon points="528,8.5 534,8.5 531,11.5" fill="#000"/>
<circle cx="553" cy="10" r="7.5" fill="#2a70d0"/><circle cx="553" cy="10" r="5.5" fill="#f4f8ff"/><path d="M553,6 v4 h3" stroke="#333" stroke-width="1" fill="none"/>
<polygon points="567.5,8.5 573.5,8.5 570.5,11.5" fill="#000"/>
<rect x="584.5" y="3.5" width="15" height="13" fill="#fff" stroke="#3a70c8"/><rect x="585" y="4" width="14" height="2" fill="#6a98e0"/>
<path d="M586,9 l3,-1 l3,1 l3,-1 l3,1" stroke="#c03020" fill="none"/><path d="M586,14 l3,-1 l3,1 l3,-2 l3,1" stroke="#22aa22" fill="none"/>
<polygon points="606.5,8.5 612.5,8.5 609.5,11.5" fill="#000"/>
<rect x="621" y="1" width="3" height="1" fill="#a8a8a8"/>
<rect x="621" y="3" width="3" height="1" fill="#a8a8a8"/>
<rect x="621" y="5" width="3" height="1" fill="#a8a8a8"/>
<rect x="621" y="7" width="3" height="1" fill="#a8a8a8"/>
<rect x="621" y="9" width="3" height="1" fill="#a8a8a8"/>
<rect x="621" y="11" width="3" height="1" fill="#a8a8a8"/>
<rect x="621" y="13" width="3" height="1" fill="#a8a8a8"/>
<rect x="621" y="15" width="3" height="1" fill="#a8a8a8"/>
<rect x="621" y="17" width="3" height="1" fill="#a8a8a8"/>
<rect x="621" y="19" width="3" height="1" fill="#a8a8a8"/>
<rect x="629" y="0" width="23" height="21" fill="#f6f6f6"/>
<rect x="628" y="1" width="1" height="19" fill="#a0a0a0"/><rect x="629" y="1" width="1" height="19" fill="#ffffff"/>
<path d="M636,3 L636,15 L639,12 L641.5,17 L643.5,16 L641,11 L645,11 Z" fill="#404040"/>
<path d="M661,10.5 h15 M668.5,3 v15" stroke="#404040" stroke-width="1"/>
<rect x="686" y="1" width="1" height="19" fill="#a0a0a0"/><rect x="687" y="1" width="1" height="19" fill="#ffffff"/>
<rect x="701.5" y="4" width="1.2" height="12" fill="#404040"/>
<rect x="725" y="9.5" width="12" height="1.2" fill="#404040"/>
<line x1="752" y1="16.5" x2="766" y2="4.5" stroke="#404040" stroke-width="1.1"/>
<path d="M778,12 L792,2 M779,16 L793,6 M781,9 l3,5 M784,7 l3,5 M787,5 l3,5" stroke="#404040" stroke-width="1" fill="none"/>
<text x="791" y="18.5" font-size="6.5" font-weight="bold" fill="#404040" font-family="DejaVu Sans, sans-serif">E</text>
<line x1="809" y1="3.5" x2="822" y2="3.5" stroke="#404040" stroke-dasharray="1 1"/>
<line x1="809" y1="6.5" x2="822" y2="6.5" stroke="#404040" stroke-dasharray="1 1"/>
<line x1="809" y1="9.5" x2="822" y2="9.5" stroke="#404040" stroke-dasharray="1 1"/>
<line x1="809" y1="12.5" x2="822" y2="12.5" stroke="#404040" stroke-dasharray="1 1"/>
<line x1="809" y1="15.0" x2="822" y2="15.0" stroke="#404040" stroke-dasharray="1 1"/>
<text x="819" y="19" font-size="6.5" font-weight="bold" fill="#404040" font-family="DejaVu Sans, sans-serif">F</text>
<text x="838.5" y="15" font-size="12.5" fill="#606060" font-family="DejaVu Sans, sans-serif" textLength="8.5" lengthAdjust="spacingAndGlyphs">A</text>
<rect x="864.5" y="4.5" width="12" height="12" fill="none" stroke="#707070" stroke-dasharray="1 1"/>
<text x="866.5" y="14.5" font-size="11" font-weight="bold" fill="#606060" font-family="DejaVu Sans, sans-serif" textLength="8" lengthAdjust="spacingAndGlyphs">T</text>
<path d="M892.5,6 l2.5,-2.5 l2.5,2.5 l-2.5,2.5 z M899.5,13.5 l2.5,-2.5 l2.5,2.5 l-2.5,2.5 z" fill="#404040"/>
<path d="M895.5,9 l2,2.5 l3.5,-4.5" stroke="#404040" stroke-width="1.3" fill="none"/>
<polygon points="912.5,8.5 918.5,8.5 915.5,11.5" fill="#000"/>
<rect x="924" y="1" width="1" height="19" fill="#a0a0a0"/><rect x="925" y="1" width="1" height="19" fill="#ffffff"/>
<rect x="929" y="1" width="3" height="1" fill="#a8a8a8"/>
<rect x="929" y="3" width="3" height="1" fill="#a8a8a8"/>
<rect x="929" y="5" width="3" height="1" fill="#a8a8a8"/>
<rect x="929" y="7" width="3" height="1" fill="#a8a8a8"/>
<rect x="929" y="9" width="3" height="1" fill="#a8a8a8"/>
<rect x="929" y="11" width="3" height="1" fill="#a8a8a8"/>
<rect x="929" y="13" width="3" height="1" fill="#a8a8a8"/>
<rect x="929" y="15" width="3" height="1" fill="#a8a8a8"/>
<rect x="929" y="17" width="3" height="1" fill="#a8a8a8"/>
<rect x="929" y="19" width="3" height="1" fill="#a8a8a8"/>
<text x="939.5" y="14" font-size="10.5" fill="#303030" font-family="DejaVu Sans, sans-serif" font-stretch="condensed" textLength="13" lengthAdjust="spacingAndGlyphs">M1</text>
<text x="967.5" y="14" font-size="10.5" fill="#303030" font-family="DejaVu Sans, sans-serif" font-stretch="condensed" textLength="13" lengthAdjust="spacingAndGlyphs">M5</text>
<text x="993.5" y="14" font-size="10.5" fill="#303030" font-family="DejaVu Sans, sans-serif" font-stretch="condensed" textLength="18" lengthAdjust="spacingAndGlyphs">M15</text>
<text x="1021.5" y="14" font-size="10.5" fill="#303030" font-family="DejaVu Sans, sans-serif" font-stretch="condensed" textLength="18" lengthAdjust="spacingAndGlyphs">M30</text>
<text x="1052.5" y="14" font-size="10.5" fill="#303030" font-family="DejaVu Sans, sans-serif" font-stretch="condensed" textLength="12" lengthAdjust="spacingAndGlyphs">H1</text>
<rect x="1075" y="0" width="24" height="21" fill="#f6f6f6"/>
<rect x="1074" y="1" width="1" height="19" fill="#a0a0a0"/><rect x="1075" y="1" width="1" height="19" fill="#ffffff"/>
<text x="1079.5" y="14" font-size="10.5" fill="#303030" font-family="DejaVu Sans, sans-serif" font-stretch="condensed" textLength="12.5" lengthAdjust="spacingAndGlyphs">H4</text>
<text x="1108.5" y="14" font-size="10.5" fill="#303030" font-family="DejaVu Sans, sans-serif" font-stretch="condensed" textLength="11.5" lengthAdjust="spacingAndGlyphs">D1</text>
<text x="1135.5" y="14" font-size="10.5" fill="#303030" font-family="DejaVu Sans, sans-serif" font-stretch="condensed" textLength="14.5" lengthAdjust="spacingAndGlyphs">W1</text>
<text x="1162.5" y="14" font-size="10.5" fill="#303030" font-family="DejaVu Sans, sans-serif" font-stretch="condensed" textLength="14.5" lengthAdjust="spacingAndGlyphs">MN</text>
<rect x="1185" y="1" width="1" height="19" fill="#a0a0a0"/><rect x="1186" y="1" width="1" height="19" fill="#ffffff"/>
<circle cx="1655.5" cy="7.4" r="3.8" fill="#f4f4ff" stroke="#2a62d0" stroke-width="1.3"/><line x1="1652.6" y1="10.4" x2="1648.6" y2="14.6" stroke="#2a5ac8" stroke-width="2.2"/>
<path d="M1673,12 q0,-5 6,-5 q6,0 6,5 q0,4 -6,4 l-3,3 l0,-3 q-3,-1 -3,-4 z" fill="#e8e8f0" stroke="#a8a8a8"/>
<defs><linearGradient id="gBadge" x1="0" y1="0" x2="0" y2="1"><stop offset="0" stop-color="#ec5a3a"/><stop offset="1" stop-color="#d41e08"/></linearGradient></defs>
<circle cx="1686.4" cy="7.4" r="8.2" fill="url(#gBadge)"/>
<text x="1683.2" y="12" font-size="11.5" fill="#fff" font-family="DejaVu Serif, serif">1</text></g></svg>
</body></html>
